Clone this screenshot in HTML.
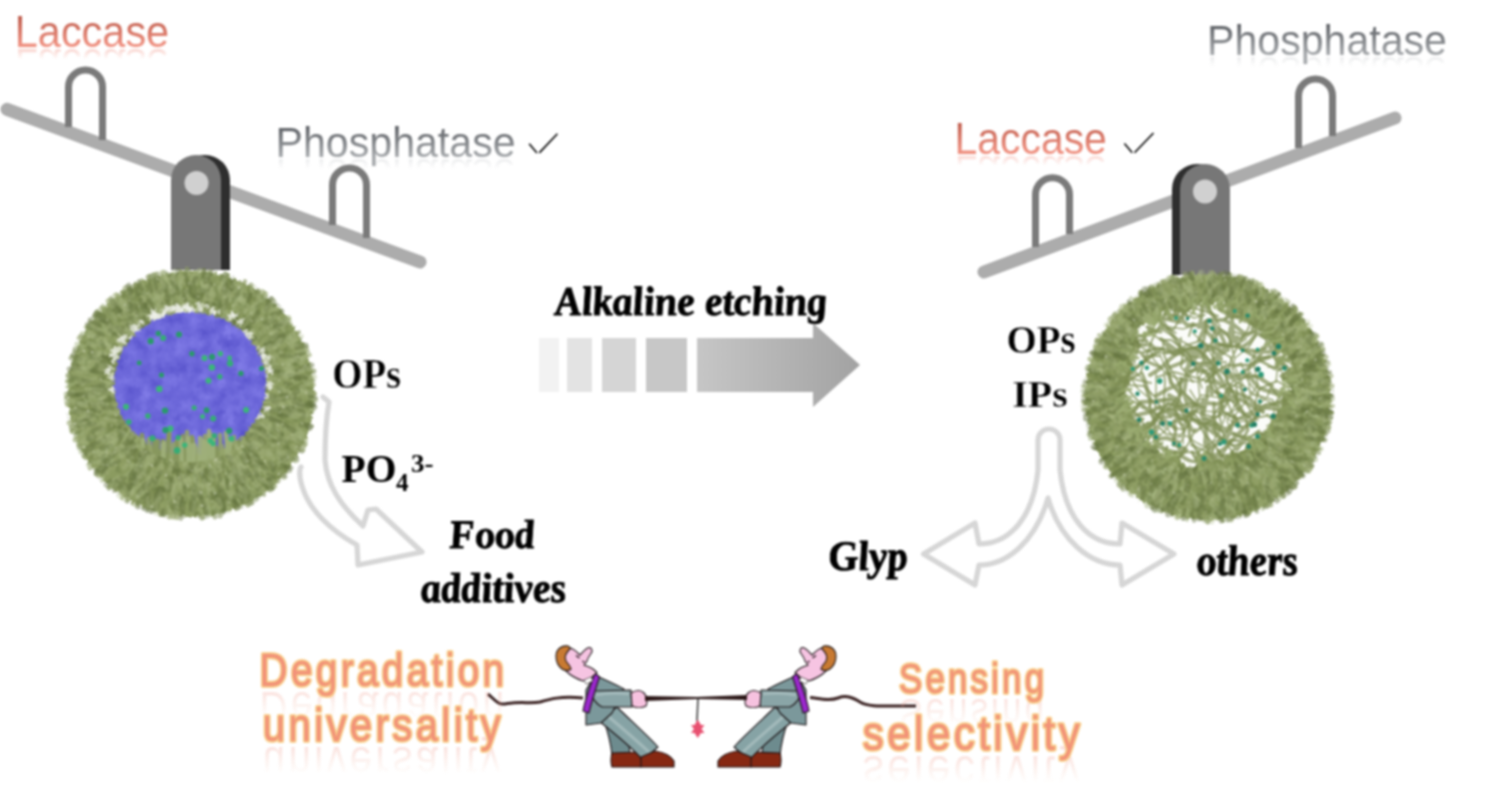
<!DOCTYPE html>
<html><head><meta charset="utf-8"><style>
html,body{margin:0;padding:0;background:#fff;width:1486px;height:807px;overflow:hidden}
svg{display:block;filter:blur(0.8px)}
.sans{font-family:"Liberation Sans",sans-serif}
.serif{font-family:"Liberation Serif",serif;font-weight:bold}
.bot{font-family:"Liberation Sans",sans-serif;font-weight:normal}
</style></head><body>
<svg width="1486" height="807" viewBox="0 0 1486 807">
<defs>
  <linearGradient id="gLac" x1="0" y1="0" x2="0" y2="1">
    <stop offset="0.1" stop-color="#b85444"/><stop offset="0.75" stop-color="#ee9080"/>
  </linearGradient>
  <linearGradient id="gPho" x1="0" y1="0" x2="0" y2="1">
    <stop offset="0.15" stop-color="#5a5d62"/><stop offset="0.8" stop-color="#a6a9ac"/>
  </linearGradient>
  <linearGradient id="gArrow" x1="0" y1="0" x2="1" y2="0">
    <stop offset="0" stop-color="#c6c6c6"/><stop offset="1" stop-color="#a2a2a2"/>
  </linearGradient>

  <filter color-interpolation-filters="sRGB" id="fuzzEdge" x="-15%" y="-15%" width="130%" height="130%">
    <feTurbulence type="fractalNoise" baseFrequency="0.35" numOctaves="2" seed="7"/>
    <feDisplacementMap in="SourceGraphic" scale="7" xChannelSelector="R" yChannelSelector="G"/><feGaussianBlur stdDeviation="0.6"/>
  </filter>
  <filter color-interpolation-filters="sRGB" id="texGreen" x="0" y="0" width="100%" height="100%">
    <feTurbulence type="fractalNoise" baseFrequency="0.09" numOctaves="3" seed="11" result="n"/>
    <feColorMatrix in="n" type="matrix" values="0.45 0 0 0 0.33  0.45 0 0 0 0.39  0.35 0 0 0 0.21  0 0 0 0 1"/>
  </filter>
  <filter color-interpolation-filters="sRGB" id="texBlue" x="0" y="0" width="100%" height="100%">
    <feTurbulence type="fractalNoise" baseFrequency="0.08" numOctaves="3" seed="4" result="n"/>
    <feColorMatrix in="n" type="matrix" values="0.22 0 0 0 0.32  0.22 0 0 0 0.30  0.15 0 0 0 0.78  0 0 0 0 1"/>
  </filter>
  <filter color-interpolation-filters="sRGB" id="texNet" x="0" y="0" width="100%" height="100%">
    <feTurbulence type="turbulence" baseFrequency="0.045" numOctaves="2" seed="9" result="n"/>
    <feComponentTransfer in="n" result="t">
      <feFuncA type="table" tableValues="1 0.6 0 0 0 0 0 0"/>
    </feComponentTransfer>
    <feColorMatrix in="t" type="matrix" values="0 0 0 0 0.50  0 0 0 0 0.57  0 0 0 0 0.33  0 0 0 1 0"/>
  </filter>
  <clipPath id="clipL"><circle cx="191" cy="394" r="126"/></clipPath>
  <clipPath id="clipLin"><ellipse cx="190" cy="384" rx="76" ry="72"/></clipPath>
  <clipPath id="clipR"><circle cx="1208" cy="397" r="126"/></clipPath>
  <clipPath id="clipRin"><ellipse cx="1206" cy="383" rx="85" ry="81"/></clipPath>

  <linearGradient id="gReflD" gradientUnits="userSpaceOnUse" x1="0" y1="690" x2="0" y2="660"><stop offset="0" stop-color="#e87890" stop-opacity="1"/><stop offset="1" stop-color="#e87890" stop-opacity="0"/></linearGradient>
  <linearGradient id="gReflU" gradientUnits="userSpaceOnUse" x1="0" y1="746" x2="0" y2="716"><stop offset="0" stop-color="#e87890" stop-opacity="1"/><stop offset="1" stop-color="#e87890" stop-opacity="0"/></linearGradient>
  <linearGradient id="gReflS" gradientUnits="userSpaceOnUse" x1="0" y1="698" x2="0" y2="668"><stop offset="0" stop-color="#e87890" stop-opacity="1"/><stop offset="1" stop-color="#e87890" stop-opacity="0"/></linearGradient>
  <linearGradient id="gReflSe" gradientUnits="userSpaceOnUse" x1="0" y1="755" x2="0" y2="725"><stop offset="0" stop-color="#e87890" stop-opacity="1"/><stop offset="1" stop-color="#e87890" stop-opacity="0"/></linearGradient>
  <filter id="soft" x="-5%" y="-5%" width="110%" height="110%"><feGaussianBlur stdDeviation="0.7"/></filter>
  <clipPath id="clipLrods"><ellipse cx="190" cy="386" rx="80" ry="76"/></clipPath>
  <filter id="clumps" color-interpolation-filters="sRGB" x="0" y="0" width="100%" height="100%">
    <feTurbulence type="fractalNoise" baseFrequency="0.13" numOctaves="2" seed="21"/>
    <feColorMatrix type="matrix" values="0 0 0 0 0.33  0 0 0 0 0.40  0 0 0 0 0.20  5 0 0 0 -2.7"/>
  </filter>
  <filter id="glints" color-interpolation-filters="sRGB" x="0" y="0" width="100%" height="100%">
    <feTurbulence type="fractalNoise" baseFrequency="0.22" numOctaves="2" seed="33"/>
    <feColorMatrix type="matrix" values="0 0 0 0 0.92  0 0 0 0 0.93  0 0 0 0 0.88  7 0 0 0 -4.9"/>
  </filter>
</defs>

<defs><linearGradient id="gLacR_lacL" gradientUnits="userSpaceOnUse" x1="0" y1="49.4" x2="0" y2="37.4"><stop offset="0" stop-color="#f08878" stop-opacity="1"/><stop offset="1" stop-color="#f08878" stop-opacity="0"/></linearGradient><linearGradient id="gLacR_lacR" gradientUnits="userSpaceOnUse" x1="0" y1="155.6" x2="0" y2="143.6"><stop offset="0" stop-color="#f08878" stop-opacity="1"/><stop offset="1" stop-color="#f08878" stop-opacity="0"/></linearGradient><linearGradient id="gPhoR_phoL" gradientUnits="userSpaceOnUse" x1="0" y1="159.1" x2="0" y2="147.1"><stop offset="0" stop-color="#9a9ea4" stop-opacity="1"/><stop offset="1" stop-color="#9a9ea4" stop-opacity="0"/></linearGradient><linearGradient id="gPhoR_phoR" gradientUnits="userSpaceOnUse" x1="0" y1="57.0" x2="0" y2="45.0"><stop offset="0" stop-color="#9a9ea4" stop-opacity="1"/><stop offset="1" stop-color="#9a9ea4" stop-opacity="0"/></linearGradient><linearGradient id="gRefl_deg" gradientUnits="userSpaceOnUse" x1="0" y1="688.5" x2="0" y2="658.5"><stop offset="0" stop-color="#f09a90" stop-opacity="1"/><stop offset="1" stop-color="#f0b090" stop-opacity="0"/></linearGradient><linearGradient id="gRefl_uni" gradientUnits="userSpaceOnUse" x1="0" y1="744.3" x2="0" y2="714.3"><stop offset="0" stop-color="#f09a90" stop-opacity="1"/><stop offset="1" stop-color="#f0b090" stop-opacity="0"/></linearGradient><linearGradient id="gRefl_sen" gradientUnits="userSpaceOnUse" x1="0" y1="696.4" x2="0" y2="666.4"><stop offset="0" stop-color="#f09a90" stop-opacity="1"/><stop offset="1" stop-color="#f0b090" stop-opacity="0"/></linearGradient><linearGradient id="gRefl_sel" gradientUnits="userSpaceOnUse" x1="0" y1="752.8" x2="0" y2="722.8"><stop offset="0" stop-color="#f09a90" stop-opacity="1"/><stop offset="1" stop-color="#f0b090" stop-opacity="0"/></linearGradient></defs>
<!-- ============ LEFT SEESAW ============ -->
<g id="seesawL">
  <line x1="7" y1="109.3" x2="420" y2="262" stroke="#acacac" stroke-width="13" stroke-linecap="round"/>
  <path d="M68.5 127 V87 a17 17 0 0 1 34 0 V140" fill="none" stroke="#7a7a7a" stroke-width="7"/>
  <path d="M332.5 225 V185 a17 17 0 0 1 34 0 V238" fill="none" stroke="#7a7a7a" stroke-width="7"/>
  <path d="M179 270 V180 a25 25 0 0 1 25 -25 h1 a25 25 0 0 1 25 25 V270 Z" fill="#2e2e2e"/>
  <path d="M171 270 V180 a25 25 0 0 1 25 -25 a25 25 0 0 1 25 25 V270 Z" fill="#777777"/>
  <circle cx="196.5" cy="183" r="12" fill="#d0d0d0"/>
</g>

<!-- ============ RIGHT SEESAW ============ -->
<g id="seesawR">
  <line x1="984" y1="272" x2="1395" y2="118" stroke="#acacac" stroke-width="13" stroke-linecap="round"/>
  <path d="M1035.5 247 V194.7 a17 17 0 0 1 34 0 V234" fill="none" stroke="#7a7a7a" stroke-width="7"/>
  <path d="M1298.5 148 V96 a17 17 0 0 1 34 0 V136" fill="none" stroke="#7a7a7a" stroke-width="7"/>
  <path d="M1172 275 V189 a25 25 0 0 1 25 -25 h1 a25 25 0 0 1 25 25 V275 Z" fill="#2e2e2e"/>
  <path d="M1180 275 V189 a25 25 0 0 1 25 -25 a25 25 0 0 1 25 25 V275 Z" fill="#777777"/>
  <circle cx="1205" cy="191.5" r="12" fill="#d0d0d0"/>
</g>

<g id="sphereL">
<circle cx="191" cy="394" r="123" fill="#8b9b60" filter="url(#fuzzEdge)"/>
<g filter="url(#soft)"><path d="M84 358L77 353M103 477L102 481M240 294L242 286M263 340L269 339M115 461L110 466M299 435L306 441M138 480L135 485M195 488L200 494M144 320L140 314M175 317L173 309M137 332L129 327M133 338L125 339M111 412L107 418M115 367L107 365M231 313L234 309M103 439L95 438M157 307L159 300M148 335L151 331M94 423L89 425M197 468L201 474M226 321L227 313M277 424L285 429M250 355L254 348M209 319L213 310M125 440L123 446M77 409L71 411M238 500L238 509M271 389L280 391M84 364L78 360M107 403L97 406M252 421L259 428M109 463L105 467M237 347L243 343M158 305L156 299M130 447L123 452M200 276L199 270M240 300L243 296M250 434L260 436M290 339L294 333M302 408L309 409M244 496L249 500M265 333L271 325M301 358L310 355M135 357L130 356M223 295L225 286M238 343L244 338M264 449L270 454M96 356L88 356M138 291L136 283M192 328L199 321M303 392L314 394M161 493L159 500M190 319L189 311M113 445L107 450M252 345L258 338M210 469L211 476M205 305L205 299M254 495L256 500M137 466L136 474M206 506L211 515M125 434L121 437M203 302L208 294M148 446L142 453M142 445L137 447M145 453L138 458M126 338L118 334M86 377L80 378M256 322L258 316M174 306L168 297M262 417L271 418M255 311L259 302M256 395L264 398M78 429L72 432M176 302L174 292M87 398L81 396M123 409L113 413M207 476L208 482M286 429L295 434M282 338L288 338M118 359L111 354M73 383L67 387M72 394L66 396M222 330L226 322M139 501L136 506M243 459L247 465M211 473L211 482M77 432L75 437M300 442L304 446M234 321L238 313M149 297L145 294M231 469L239 473M273 417L277 418M260 356L270 352M242 475L247 483M114 453L106 458M108 454L104 460M184 312L181 308M87 334L82 333M244 312L248 307M129 473L122 479M227 280L228 275M283 365L292 366M213 488L216 494M278 456L283 464M125 449L120 454M193 493L195 502M83 368L76 362M105 468L95 469M175 484L172 491M271 389L280 389M250 429L255 430M91 383L85 384M303 351L308 351M112 434L106 436M218 461L226 465M109 409L103 409M241 466L242 472M278 388L284 389M159 490L156 500M261 427L269 432M184 313L184 308M180 286L179 275M267 397L274 401M110 345L103 339M292 435L296 432M194 470L195 481M220 320L220 314M228 324L234 317M295 438L303 437M266 378L276 377M252 462L258 467M272 481L275 487M165 299L165 293M269 364L274 363M181 311L180 305M240 435L248 441M192 464L192 470M83 364L73 362M268 434L274 438M129 294L130 287M180 288L182 281M273 409L281 411M102 331L95 330M270 440L272 447M186 313L179 306M156 281L155 274M267 383L276 378M255 452L258 459M148 448L145 457M119 386L114 385M271 463L281 464M159 480L153 487M234 305L238 296M237 299L239 289M94 337L89 334M235 291L234 285M139 464L133 472M178 494L177 500M173 494L169 501M202 470L205 480M145 289L140 282M237 473L242 481M84 437L78 434M227 486L228 496M264 348L269 344M137 326L129 322M80 377L74 377M250 493L251 500M99 387L90 388M298 391L304 388M73 382L67 382M291 456L296 458M128 296L125 290M115 435L106 438M123 409L114 406" stroke="#a2b27e" stroke-opacity="0.45" stroke-width="4" stroke-linecap="round" fill="none"/>
<path d="M254 484L258 491M225 481L228 487M242 308L246 303M83 444L79 448M223 279L226 274M254 479L263 484M213 503L218 511M197 305L199 296M106 459L102 463M120 311L117 307M270 407L278 411M258 355L264 349M110 444L105 452M97 363L92 364M132 488L131 494M251 471L255 478M294 380L300 376M76 425L71 428M86 443L79 445M106 343L102 337M95 346L89 343M150 479L149 485M114 482L109 487M274 355L279 351M190 306L190 301M173 458L169 463M173 513L171 517M93 450L84 456M104 345L98 342M250 446L256 452M275 418L277 423M118 412L112 411M158 495L151 503M288 374L294 373M262 362L273 360M265 366L275 368M117 358L112 351M273 368L278 366M104 356L97 353M245 453L247 462M111 459L101 460M260 490L264 492M293 436L299 439M91 333L86 327M226 472L234 479M102 398L94 397M215 297L218 288M75 392L66 394M145 492L137 496M98 360L89 364M135 315L126 310M98 356L92 353M258 319L269 317M208 508L209 515M207 457L209 465M156 297L153 291M296 360L301 359M133 466L131 475M106 366L103 357M77 432L72 431M146 313L138 306M168 509L164 515M270 463L275 470M279 328L284 320M290 415L298 417M185 485L185 490M282 371L289 369M106 457L101 460M129 406L119 404M216 454L219 458M259 426L266 428M262 361L270 360M228 320L229 315M195 476L197 484M105 310L103 306M230 299L240 298M236 457L238 463M111 331L104 326M248 318L252 313M132 337L128 330M124 312L122 306M82 420L74 427M231 469L237 478M246 356L252 351M133 349L129 345M290 395L301 393M108 446L103 452M103 318L98 311M134 303L128 300M227 453L234 460M83 346L77 344M241 454L249 459M196 498L198 502M82 438L77 439M202 331L205 324M111 435L101 436M140 457L136 467M287 375L293 373M112 448L108 453M214 460L221 468M226 476L231 483M252 451L260 458M104 346L94 343M264 471L271 477M260 413L270 414M250 478L255 478M254 375L261 373M131 313L128 303M150 341L144 334M253 443L260 444M280 342L289 337M255 402L264 402M131 350L123 342M262 419L268 418M184 500L178 505M203 290L203 279M207 459L210 468M241 342L247 337M223 287L224 277M245 451L252 456M282 325L289 318M292 435L301 434M159 306L159 301M215 504L215 512M154 329L146 323M126 337L126 332M270 368L276 365M311 399L316 400M287 436L295 439M202 495L200 503M108 468L102 476M246 360L251 352M84 445L81 452M265 482L268 488M76 375L68 377M113 463L104 463M127 435L121 435M223 460L225 469M128 418L123 425M157 308L153 300M260 376L268 371M115 384L106 384M288 356L296 357M90 425L83 433M263 299L266 294M241 461L248 467M264 431L269 436M145 342L143 336M207 484L209 490M236 461L244 465M140 461L136 470M175 303L172 294M275 347L282 341M115 347L107 344M121 418L117 423M243 431L252 434M151 322L144 315M130 458L127 464M296 413L306 416M110 358L101 357M271 335L275 329M166 278L163 272M284 323L288 319M211 333L212 328M256 468L261 473M134 469L135 479M192 466L194 470M262 300L266 294M302 348L306 346M269 367L271 362M161 300L161 294M212 468L216 475M107 448L102 450M120 376L110 377M174 295L171 285M306 414L313 410M180 298L179 288M183 322L186 315M89 400L81 403M217 308L218 301M186 462L185 469M211 304L212 295M79 377L69 377M248 487L254 488M242 341L247 336M229 496L232 502M109 327L104 322M154 283L154 275M124 394L119 399" stroke="#a2b27e" stroke-opacity="0.45" stroke-width="5" stroke-linecap="round" fill="none"/>
<path d="M136 359L133 354M133 301L124 294M101 431L98 435M120 444L112 450M190 326L185 320M179 504L176 509M229 308L229 302M126 305L121 297M156 490L154 498M201 499L202 506M132 339L123 333M206 470L207 477M96 342L91 340M137 306L138 297M294 440L298 445M283 464L289 468M93 328L87 327M225 466L231 474M131 296L125 290M104 317L99 314M280 469L284 476M118 390L112 388M266 316L269 312M275 463L276 469M178 331L176 325M281 448L285 452M176 305L175 295M146 307L142 300M102 316L96 314M283 435L291 436M161 308L160 302M232 336L239 330M301 348L307 348M199 303L199 293M265 443L272 448M240 433L246 436M126 430L120 433M296 335L299 332M262 447L268 449M94 423L87 425M136 454L135 460M93 417L85 415M280 439L286 443M114 418L103 416M132 444L127 449M201 276L204 270M208 493L210 499M247 500L251 503M149 347L146 341M191 318L191 308M157 309L152 304M211 283L210 272M133 320L127 312M215 299L216 293M275 368L284 367M253 369L262 366M136 321L131 318M205 302L205 297M280 409L289 413M168 500L171 509M178 500L177 510M169 332L171 327M133 330L129 326M123 384L115 378M269 446L274 449M193 294L190 289M121 417L115 423M267 369L276 367M264 440L270 446M140 342L136 338M228 279L228 275M234 503L240 507M243 288L245 281M126 370L119 371M225 477L228 487M247 456L253 464M177 505L178 511M132 345L128 338M94 450L86 455M135 450L134 458M121 396L112 398M223 464L222 473M92 457L89 464M125 299L118 295M91 386L82 388M89 452L84 451M86 375L77 368M112 366L103 361M107 459L99 466M260 460L264 465M262 444L269 446M182 477L182 483M136 292L135 285M228 292L229 281M286 454L291 458M128 413L124 416M256 300L261 297M269 404L276 402M254 433L258 437M236 452L243 458M254 451L259 456M174 469L168 477M206 321L211 314M274 372L283 367M231 499L234 507M94 397L89 396M254 445L258 450M89 406L83 405M122 431L116 430M74 397L66 398M242 327L243 321M92 410L83 411M192 310L190 302M161 452L155 459M79 385L73 388M139 481L138 490M97 332L89 325M170 491L171 499M269 314L273 311M183 310L180 305M258 310L259 303M214 325L215 319M151 297L150 292M138 288L135 284M122 349L114 345M248 499L250 504M114 428L107 431M225 495L229 504M292 389L300 386M307 424L312 426M108 360L101 355M243 438L251 442M151 489L150 499M170 326L168 319M247 483L252 486M262 442L265 452M300 379L307 382M294 437L302 442M292 363L298 361M127 347L121 345M83 378L77 376M127 323L118 318M298 411L308 408M214 483L219 492M97 372L87 370M170 309L165 300M197 309L199 302M260 486L264 495M241 310L246 307M117 317L111 308M203 498L205 506M134 483L129 492M87 389L80 390M158 487L155 492M268 311L270 307M186 302L188 293M171 481L166 489M114 402L106 400M252 297L259 292M201 296L199 287M272 350L277 350M76 421L71 426M245 490L245 501M255 410L265 409M271 450L281 456M285 447L290 450M190 483L190 490M131 489L126 496" stroke="#76864c" stroke-opacity="0.5" stroke-width="4" stroke-linecap="round" fill="none"/>
<path d="M132 346L127 338M306 371L314 371M262 429L265 435M298 376L309 375M80 380L71 380M97 457L92 462M141 465L138 473M261 329L263 325M302 386L310 390M249 293L251 285M123 408L113 409M268 363L274 356M213 325L218 316M97 440L92 445M241 322L247 317M213 512L215 517M179 328L177 321M250 459L251 466M279 355L288 348M149 280L148 277M166 299L164 292M166 465L167 476M193 316L193 308M262 339L269 338M120 437L116 444M247 438L249 443M275 377L284 376M279 446L287 451M146 474L142 480M221 301L219 294M233 296L235 289M254 451L259 455M240 480L245 489M76 359L71 358M84 342L81 336M282 446L287 453M281 435L287 442M136 468L130 476M95 383L86 383M224 509L220 516M164 309L162 299M234 457L240 461M161 471L158 476M251 360L262 358M240 350L248 346M216 290L215 284M258 412L266 417M127 351L117 348M243 479L245 490M255 300L258 291M251 436L255 441M262 484L264 489M278 375L283 372M281 455L285 460M305 403L313 403M102 444L97 451M222 492L226 497M265 406L274 405M272 401L281 403M194 296L189 289M272 415L278 416M250 497L252 503M218 299L222 291M118 419L109 424M233 323L236 316M255 466L261 475M99 336L91 332M99 316L97 312M150 282L150 276M285 436L295 440M104 407L94 409M101 393L93 396M296 378L304 377M84 355L78 357M126 299L123 292M225 330L234 326M99 403L92 404M227 492L229 500M197 280L201 276M152 493L151 501M83 428L79 430M257 387L264 387M124 447L123 453M185 494L185 502M170 314L171 308M206 290L208 284M143 455L143 464M143 319L140 314M80 396L73 397M275 353L282 350M211 316L211 309M166 510L161 514M137 451L135 460M124 418L120 421M113 357L108 358M79 396L70 396M142 325L134 320M94 455L84 456M248 306L251 296M268 355L276 353M214 311L212 304M99 384L93 384M168 483L167 494M285 451L291 453M170 333L170 326M267 439L277 441M265 437L275 442M275 414L284 417M277 475L278 481M297 380L303 378M268 382L275 381M238 328L242 324M263 487L270 490M265 337L267 331M247 434L252 437M96 411L88 416M157 334L157 325M140 432L136 436M295 404L299 405M210 496L212 503M190 465L192 472M196 492L198 502M158 488L151 497M101 441L94 443M158 279L157 274M205 304L205 296M84 428L78 429M99 325L93 323M109 379L100 378M127 347L122 342M258 482L257 489M220 302L217 296M169 463L167 469M147 451L141 455M295 387L302 385M191 504L194 514M114 483L109 488M136 458L130 460M74 376L68 375M286 422L295 427M84 391L77 391M283 447L292 448M223 464L222 474M251 361L258 361M211 471L209 481M228 297L225 287M199 515L202 518M129 386L121 386M130 496L127 501M244 296L252 295M145 329L140 326M281 469L286 472M185 471L183 476M154 464L147 471M154 283L153 275M123 315L119 307M254 363L259 358M173 508L174 517M304 379L313 380M294 363L298 360M234 476L238 485M254 433L262 440M185 289L186 280M267 482L272 489M114 426L108 429M220 306L226 299M250 367L260 369M146 295L147 287M255 390L264 390M219 455L223 461M83 397L76 398M274 361L279 354M139 312L136 306M206 304L206 296M216 311L215 305M148 311L145 305M264 333L269 330M244 500L248 505M88 397L81 394M124 335L124 326M154 484L148 489M275 378L284 378" stroke="#76864c" stroke-opacity="0.5" stroke-width="5" stroke-linecap="round" fill="none"/>
<path d="M92 354L82 353M195 319L197 311M123 458L115 463M150 305L150 298M119 399L113 403M171 484L171 493M142 308L143 297M274 325L280 323M116 310L114 305M258 367L269 367M86 389L80 391M89 384L82 382M278 329L282 322M288 406L299 405M81 419L73 415M163 469L163 479M303 380L309 383M157 495L154 500M164 305L161 296M126 423L117 424M112 414L106 411M126 454L121 458M231 322L229 312M115 421L108 422M169 304L167 294M150 454L148 462M276 405L285 402M115 379L106 376M143 289L142 280M103 429L95 432M150 450L143 454M238 346L245 341M205 479L204 484M88 361L81 357M107 339L101 339M90 424L85 428M192 509L194 514M128 404L121 403M220 488L225 497M127 305L126 299M159 479L155 486M226 292L233 286M175 510L177 518M110 466L103 473M153 468L153 478M106 424L99 430M283 389L292 395M210 290L217 282M308 384L314 385M228 458L232 466M151 476L150 485M145 481L142 485M295 395L305 394M261 382L270 381M198 479L199 489M285 406L292 403M260 478L265 481M272 404L277 407M211 456L210 462M120 406L113 414M112 435L106 438M302 441L306 444M191 318L191 312M186 295L187 289M271 354L276 345M170 328L172 318M235 460L239 469M157 504L160 515M154 496L151 506M103 448L95 451M176 461L176 467M272 396L279 397M206 300L206 294M149 332L147 325M110 336L107 332M91 429L85 431M222 493L229 501M116 440L110 445M184 314L189 309M116 352L108 348M96 424L87 430M83 366L75 366M87 412L80 413M145 346L136 340M279 406L289 405M179 279L181 271M213 329L218 323M229 461L236 465M103 448L96 455M251 378L256 377M71 381L67 381M82 437L78 442M311 391L315 394M80 352L74 352M267 479L271 485M126 456L118 460M89 381L81 379M133 494L130 499M77 358L72 356M87 381L76 382M264 429L271 430M207 326L210 316M236 482L239 487M95 412L85 411M95 420L85 418M259 485L265 490M113 304L110 300M103 384L95 385M261 382L266 378M96 382L89 383M212 318L212 309M83 429L75 430M107 310L101 308M102 354L94 353M71 405L67 405M111 366L100 369M238 483L241 489M269 477L276 482M147 298L140 295M158 500L152 508M169 299L163 295M221 334L221 329M154 285L149 276M263 388L268 386M290 425L295 428M295 425L301 430M258 423L264 423M105 338L99 334M270 426L275 432M242 462L247 467M249 466L254 473M269 361L276 361M182 458L180 466M147 448L145 458M219 475L220 482M175 302L178 292M268 407L279 407M97 322L90 322M274 358L280 355M202 495L200 506M183 285L185 277M116 445L110 450M184 487L188 496M242 338L246 332M106 409L100 413M269 357L275 353M283 452L292 457M282 431L289 438M84 397L77 398M254 347L263 342M290 408L298 410M97 345L89 345M253 472L255 478M145 341L142 335M259 461L262 466M104 410L97 409M190 331L189 321M248 430L255 433M259 344L267 337M220 328L224 321M159 309L158 299M82 375L73 373M155 335L150 326M106 394L98 394M137 502L133 504M88 391L78 391M82 440L78 445M260 297L265 293M228 462L232 472M296 348L302 345M252 346L255 342M184 323L182 316M231 444L237 449M117 321L114 314M102 324L95 316M302 410L309 412M122 431L112 434M234 441L233 451M290 434L297 436M190 322L190 315M174 323L170 314M238 317L243 309M238 465L241 470M225 312L226 304M102 475L98 476M257 429L265 435M247 477L256 482M126 494L122 498M286 364L291 361" stroke="#93a369" stroke-opacity="0.55" stroke-width="4" stroke-linecap="round" fill="none"/>
<path d="M215 501L217 506M183 475L179 482M256 462L261 469M263 363L272 359M268 406L273 410M263 452L263 461M276 422L281 425M261 378L265 375M186 275L187 269M205 306L207 296M241 470L247 477M98 433L87 435M196 316L199 308M289 360L295 360M104 472L96 474M265 401L275 404M127 331L123 327M298 426L304 426M297 447L303 450M200 491L199 499M128 477L119 482M110 328L105 321M294 444L296 449M256 423L265 422M135 321L134 314M118 454L109 454M122 480L116 489M161 457L160 466M118 339L110 334M258 409L268 410M117 461L113 468M303 392L314 393M150 493L145 501M251 459L258 464M256 413L264 412M240 445L238 452M143 484L138 487M90 364L84 356M220 470L222 478M161 491L160 501M186 474L183 483M282 431L290 433M85 375L79 373M127 443L121 447M128 460L122 466M166 294L163 285M228 458L231 464M128 350L120 343M114 308L109 305M272 312L274 307M270 401L280 405M257 374L265 373M162 504L164 514M279 376L284 374M295 413L301 415M162 294L155 288M113 304L108 301M270 400L278 396M249 345L254 346M253 480L253 486M279 349L284 346M166 331L161 325M271 484L272 488M143 339L141 334M279 339L287 337M135 305L126 302M132 483L129 492M146 328L140 326M260 453L265 453M196 314L193 308M206 293L210 283M109 469L107 474M111 406L102 408M97 362L91 362M195 456L194 462M71 401L67 403M231 338L235 333M120 339L114 330M122 420L115 422M253 323L260 316M89 379L82 379M303 394L313 396M166 494L161 501M247 472L252 476M182 483L178 491M92 373L83 367M269 405L277 407M287 382L296 382M104 444L97 444M299 441L304 446M84 437L81 446M297 371L304 374M94 352L89 346M259 424L268 429M112 313L104 309M116 354L106 350M158 295L151 288M123 399L118 403M267 460L271 466M226 493L232 497M79 427L72 431M244 486L246 495M175 462L171 469M183 491L183 499M280 369L290 366M204 289L206 280M170 294L170 289M238 488L243 489M207 280L206 273M259 451L266 456M260 325L268 323M220 474L217 482M248 468L254 475M269 313L277 309M258 297L263 292M80 438L75 440M195 283L190 274M200 311L199 306M228 301L230 291M180 500L178 508M104 382L98 379M229 447L237 453M112 376L109 370M237 450L238 456M179 497L175 506M280 361L280 354M90 450L86 458M267 332L273 330M169 299L167 294M109 343L103 338M210 304L213 294M106 404L99 403M100 318L95 315M76 421L69 423M96 332L90 324M134 482L126 486M106 419L101 420M120 301L116 295M141 327L136 324M119 369L112 372M245 362L255 362M128 385L120 388M279 403L284 403M261 443L269 450M211 281L206 274M261 437L268 443M286 436L292 439M96 335L91 333M252 347L255 343M172 494L172 501M276 325L282 317M270 389L275 387M226 457L231 460M274 328L280 322M273 418L282 424M174 481L172 486M101 429L92 429M136 319L135 311M294 353L300 348M128 292L125 288M218 467L219 473M115 396L109 395M242 486L246 490M243 490L245 495M149 324L145 317M106 432L97 439M97 463L90 468M251 465L252 472M108 407L99 404M171 512L169 517M87 340L79 338M163 310L157 300M150 483L145 486M298 415L307 422M228 300L229 291M301 393L308 393M119 304L117 299M259 443L262 448M167 487L164 497M253 374L259 371M123 444L118 450M113 383L105 382M155 447L150 451M185 465L189 474M152 303L149 296M276 397L282 397M149 488L147 492M233 323L238 319M266 394L275 391M267 473L272 475M209 494L210 504" stroke="#93a369" stroke-opacity="0.55" stroke-width="5" stroke-linecap="round" fill="none"/>
<path d="M229 293L233 286M276 342L284 338M239 336L243 332M147 494L143 498M298 411L304 413M115 334L109 331M217 324L216 319M80 426L72 429M235 324L238 315M279 397L287 393M108 400L101 404M275 338L284 336M285 467L290 471M142 476L136 480M100 412L95 408M250 474L253 480M260 437L264 441M273 306L274 301M276 335L279 329M129 440L124 444M273 402L278 404M131 474L130 480M145 456L142 461M125 422L120 427M265 351L271 345M107 324L100 318M168 300L167 294M278 421L287 426M285 383L291 384M143 328L139 324M173 295L170 290M306 425L310 429M115 304L111 298M90 416L84 420M156 340L155 332M298 405L306 405M240 497L242 502M227 480L228 488M278 408L283 408M122 361L117 356M276 430L282 434M115 485L114 491M96 354L89 348M117 399L111 396M237 475L241 484M191 501L191 511M118 355L110 356M121 314L115 306M308 406L314 406M131 306L129 301M144 458L136 462M157 292L155 282M135 444L126 449M217 328L221 319M76 395L68 393M175 276L178 270M119 358L112 359M182 498L178 505M190 288L189 282M211 310L212 304M197 457L196 463M244 323L250 317M86 381L78 385M97 428L93 432M171 330L171 324M189 472L186 477M208 320L207 312M287 409L296 406M231 326L236 318M110 359L104 356M141 321L137 313M212 493L216 500M167 296L167 285M127 486L121 489M227 456L231 459M106 401L98 403M162 456L156 465M261 431L267 436M188 284L186 276M251 426L260 427M184 484L185 492M130 294L128 287M193 491L193 498M160 488L155 496M270 346L275 344M299 376L306 378M200 473L207 481M119 461L111 465M248 301L251 294M270 371L278 371M149 323L143 316M310 396L316 398M145 333L141 329M131 330L128 325M269 303L272 299M259 359L267 353M207 309L207 304M177 465L174 472M242 334L247 327M235 501L238 505M163 510L162 515M224 291L226 281M254 470L258 476M182 513L181 519M105 438L98 442M274 441L281 441M279 326L287 319M140 453L140 459M132 291L127 286M117 398L108 398M175 459L178 470M281 356L290 356M208 278L212 271M265 345L274 342M125 478L120 484M259 439L264 443M121 333L117 327M217 494L223 501M279 415L287 416M177 288L171 281M241 467L245 476M112 303L111 299M133 439L130 443M142 289L140 285M219 475L221 480M207 293L210 284M123 333L118 329M82 407L73 412M134 333L128 331M275 399L285 400M98 470L96 474M245 451L248 458M265 397L271 398M293 411L302 410M146 312L145 304M204 277L204 270M240 492L247 498M135 430L129 438M201 489L201 498M268 474L274 478M90 381L84 381M147 506L144 509M108 368L102 361M139 286L139 281M91 328L87 324M270 411L278 410M154 507L151 512M100 321L97 316M101 362L92 356M95 406L85 403M167 486L163 491M158 281L155 277M263 367L269 363M254 423L257 429M179 321L179 311M261 478L267 487M257 403L264 408M271 395L277 397M234 482L238 489M224 503L225 510M81 422L76 428M252 427L260 431M251 443L254 448M216 499L220 504M243 458L245 464M131 485L129 491M131 312L127 305M208 297L205 292M125 484L119 487M150 503L147 511M281 460L288 460M95 444L88 451M133 437L126 444M270 418L276 420M262 350L271 345M177 312L175 303M257 406L262 408M122 478L117 481M97 352L89 353M259 464L266 469M107 467L102 473M80 423L75 424M281 342L284 336M264 409L269 409M296 379L305 377M96 443L87 448M262 464L267 469M104 429L93 430M238 493L242 498M120 342L118 337M111 388L104 391M133 471L134 482M117 313L112 304M268 479L273 488M194 494L193 505M144 341L139 335M110 439L104 442M194 297L188 291M289 375L296 376M95 424L90 425M297 371L304 367M127 393L121 395M268 305L271 298M158 477L156 483M103 335L95 329M94 446L86 454M237 296L239 289M134 445L130 450M183 513L180 518M149 485L144 489" stroke="#5f6f3c" stroke-opacity="0.4" stroke-width="4" stroke-linecap="round" fill="none"/>
<path d="M306 368L312 365M253 350L258 349M243 455L249 462M103 370L97 369M274 337L283 335M138 469L136 476M114 386L108 388M95 410L87 412M137 312L134 305M174 282L170 275M135 476L135 484M152 480L144 486M260 354L264 351M256 474L259 478M247 344L255 338M294 357L303 353M111 481L106 485M225 332L232 324M245 458L252 465M254 456L261 463M199 294L194 288M137 349L135 342M205 282L208 278M138 328L132 325M192 465L190 471M199 299L203 291M271 419L279 422M80 368L74 363M79 349L75 350M161 292L166 286M290 397L298 391M175 505L175 512M112 328L109 321M225 307L227 299M280 412L290 414M128 371L121 371M87 394L78 395M161 489L157 496M159 490L162 499M156 328L153 322M299 448L302 451M150 452L141 456M105 460L101 469M270 463L274 470M111 446L102 448M301 425L308 425M240 481L246 489M166 310L168 302M138 502L138 507M146 323L146 317M135 324L131 318M290 376L298 377M234 474L239 481M178 293L173 290M257 408L264 410M82 401L77 404M106 392L103 388M94 437L89 438M80 359L73 355M222 323L226 317M225 294L229 289M103 320L95 315M309 403L315 407M222 279L225 274M147 445L144 451M154 316L148 311M144 310L141 300M104 385L94 388M243 486L249 494M205 505L207 514M135 450L128 456M114 370L106 369M217 497L220 504M234 501L237 508M120 401L112 397M118 363L110 358M142 488L139 493M297 403L302 405M289 428L294 431M175 285L171 276M233 467L241 474M230 457L233 467M199 494L202 501M229 326L236 319M108 461L103 470M90 423L80 421M256 424L264 431M245 334L249 326M294 402L300 401M124 329L117 328M193 322L192 316M157 497L157 507M138 294L137 289M275 329L276 323M75 368L69 369M178 471L180 480M104 347L101 342M154 328L148 323M193 285L196 278M281 475L285 477M172 479L169 490M219 315L221 305M151 291L150 286M246 434L251 435M101 390L93 391M248 444L251 452M266 324L273 320M99 326L90 320M111 407L104 408M266 310L270 300M225 495L228 500M204 471L204 482M265 399L271 398M287 397L294 397M269 480L272 484M283 411L292 408M146 449L141 454M179 495L177 499M185 300L185 291M149 493L146 502M155 500L157 508M221 489L224 499M248 456L256 461M221 313L224 308M208 322L213 316M244 360L246 353M85 411L76 412M103 470L96 471M223 498L223 507M102 373L92 370M147 332L144 327M142 354L139 350M279 324L286 324M237 491L243 496M91 416L85 420M233 289L232 282M106 321L102 317M253 322L258 312M132 328L128 325M96 323L94 317M237 473L245 479M119 311L116 304M100 372L96 367M135 311L130 305M125 430L119 439M130 484L128 494M151 312L146 306M104 316L96 313M231 473L234 478M297 348L306 345M131 292L129 285M224 292L226 285M117 378L112 378M141 341L135 336M268 302L272 299M293 459L297 460M200 300L196 296M118 450L110 457M206 470L213 476M242 327L245 322M246 470L249 475M105 370L97 365M179 471L179 477M231 462L236 470M164 452L159 456M153 310L149 301M111 364L102 365M182 499L183 509M167 329L166 321M95 393L89 393M181 499L182 509M131 358L125 357M303 425L311 427M282 465L291 468M251 362L258 362M196 504L193 510M258 392L267 389M273 315L282 311M150 313L144 305M118 365L108 362M108 361L103 356M164 284L158 278" stroke="#5f6f3c" stroke-opacity="0.4" stroke-width="5" stroke-linecap="round" fill="none"/>
<path d="M149 344L146 339M171 467L170 472M119 391L112 395M251 421L257 425M232 287L235 283M238 464L248 468M259 377L265 375M155 322L153 317M294 447L303 450M173 316L171 309M254 295L260 290M251 312L252 307M141 459L140 465M185 464L189 468M252 291L254 286M289 365L297 358M300 371L307 370M209 317L212 308M95 336L90 332M188 299L187 290M258 295L262 291M143 469L140 477M99 402L92 403M123 446L118 451M95 417L85 416M192 486L195 493M174 291L174 281M291 447L296 450M208 299L210 292M231 491L238 495M207 331L206 323M154 315L149 306M199 321L203 314M251 454L256 460M277 437L286 439M223 303L225 297M123 347L117 340M196 283L197 273M95 378L88 381M280 390L290 392M200 509L204 518M179 498L177 507M169 469L166 475M224 318L225 311M99 394L89 394M168 481L167 486M220 313L224 307M231 475L234 481M203 291L202 283M273 399L281 399M289 348L297 345M116 349L107 344M105 397L99 399M111 436L103 441M200 329L201 319M95 396L89 396M125 362L118 357M224 325L231 317M122 307L118 301M278 327L284 326M221 453L220 458M217 456L220 463M248 443L255 447M198 280L201 270M289 437L295 440M102 455L102 464M164 286L160 280M115 320L111 313M168 502L169 510M87 406L79 403M85 423L75 423M204 302L207 293M289 343L298 338M245 312L248 306M285 397L292 405M127 315L123 306M98 361L94 357M280 323L287 318M97 415L90 419M132 297L125 290M117 438L113 442M238 304L243 300M278 452L288 455M188 457L184 465M91 412L86 413M103 459L99 464M144 301L144 292M208 492L209 498M210 312L211 303M140 470L138 476M289 375L298 374M149 478L146 488M207 277L209 271M188 478L182 485M180 287L182 277M246 336L254 333M122 317L118 315M87 402L82 406M114 434L109 440M200 318L203 312M204 480L203 487M272 446L278 445M281 452L285 459M280 442L286 443M124 432L116 430M281 327L289 322M171 465L170 474M157 298L157 292M175 511L173 517M148 498L148 507M230 301L229 292M167 279L163 273M117 332L110 325M278 430L280 435M232 482L230 487M278 446L282 453M298 352L306 350M250 364L254 360M132 491L128 499M154 457L153 462M172 293L170 282M196 315L199 308M192 486L192 493M291 334L297 338M173 334L168 328M160 498L154 506M90 368L81 368M275 424L282 425M140 327L135 318M251 439L255 444M104 354L96 354M131 464L124 468M107 453L100 456M300 414L307 415M219 336L222 325M121 449L112 454M151 464L141 466M191 282L194 274M142 490L137 498M127 308L121 299M283 373L293 371M144 453L142 463M194 506L193 513M76 429L71 428M142 462L136 470M259 451L262 457M123 367L116 362M285 368L294 370M275 444L281 447M139 442L130 448M113 307L109 303M310 379L314 376M104 354L96 352M87 382L82 382M100 460L95 462M162 314L156 309M175 285L174 275M107 436L101 438M280 405L290 407M220 462L220 470M305 382L313 382M286 322L289 317M280 451L290 452M142 448L141 453M212 320L213 312M247 434L256 437M134 334L126 330M195 502L192 513M98 319L92 319M295 339L302 336M298 430L304 434M236 443L240 453M197 477L197 485M173 290L171 279M195 492L197 498M263 384L270 384M285 377L292 375M235 305L241 297M127 317L123 313M265 369L269 365M204 291L208 285M156 505L156 514M110 383L104 382M110 334L105 330M269 349L276 348M206 318L208 312M270 333L276 330M303 369L312 370M269 366L273 361M190 481L188 488M228 335L233 330M260 425L270 424M259 478L265 482M106 354L99 353M244 340L247 334M197 463L197 474M98 451L89 454M253 460L259 466M163 296L161 289M181 475L181 484M145 472L148 480M227 451L231 460M104 423L96 425M154 330L148 327M239 466L241 474M152 300L149 292M116 420L105 418M204 323L205 312M276 438L284 443M207 483L209 490M109 370L100 369M158 454L153 460M118 351L109 348M202 307L204 300M134 446L125 449M112 387L106 387M230 459L236 463" stroke="#aebd8c" stroke-opacity="0.3" stroke-width="4" stroke-linecap="round" fill="none"/>
<path d="M174 488L174 496M290 345L295 341M124 332L117 327M211 473L211 478M134 324L123 322M228 492L231 498M214 295L212 288M254 464L259 470M301 358L309 355M92 437L82 442M225 333L230 324M166 481L167 488M234 467L241 473M104 429L98 433M94 344L88 343M270 310L277 309M257 466L259 477M90 423L82 426M243 288L245 283M99 338L89 336M170 512L173 517M254 372L263 368M267 427L276 428M231 474L234 482M289 363L295 358M117 299L115 295M175 454L173 461M285 378L290 372M225 292L224 286M118 478L111 484M185 476L187 483M283 363L289 362M221 336L220 330M127 305L121 300M120 395L113 397M95 390L87 389M276 404L282 404M82 350L75 348M92 423L84 424M75 428L72 425M141 322L137 318M107 392L97 392M246 491L245 497M174 333L170 326M283 322L290 321M257 440L262 443M107 365L101 365M233 441L237 447M244 300L245 293M270 305L274 301M218 499L221 507M252 431L261 434M176 478L174 485M265 400L270 399M289 459L296 461M301 387L308 384M246 500L247 505M165 306L160 298M230 454L233 459M241 466L246 472M88 416L79 419M255 483L263 490M242 453L246 460M168 330L167 319M252 380L260 375M182 321L177 316M121 446L116 450M164 288L166 280M124 488L119 496M148 339L143 332M273 339L277 332M291 337L296 334M239 353L245 345M222 286L224 280M234 441L240 447M263 451L270 456M172 278L174 271M89 361L80 359M152 455L148 462M242 322L249 319M217 322L224 318M188 312L185 305M274 383L280 379M116 303L110 299M269 483L275 486M221 298L223 288M204 463L201 471M121 346L118 338M142 475L135 482M100 342L96 339M296 406L303 404M261 334L266 326M86 405L75 403M221 295L220 287M281 472L283 478M240 487L242 496M141 315L135 313M264 382L270 383M171 325L168 317M84 413L74 410M128 452L121 456M145 467L142 476M105 442L99 440M215 454L216 464M117 440L111 446M255 471L258 476M82 384L77 381M106 405L99 404M201 485L201 493M104 353L99 353M120 396L112 395M87 372L82 369M103 391L95 391M244 475L247 485M112 439L107 442M244 343L250 339M266 357L276 357M134 334L127 328M275 346L280 340M127 492L123 499M248 445L255 449M254 306L259 299M146 461L142 465M302 390L310 393M119 303L113 297M298 438L306 439M121 303L117 295M73 400L66 400M98 329L92 326M270 321L275 316M243 326L248 317M294 436L297 441M235 472L241 481M158 278L155 275M206 500L207 507M310 377L315 377M269 384L274 379M269 454L273 458M170 331L171 320M98 452L95 457M237 458L239 463M185 308L182 302M223 481L222 487M171 291L166 282M136 324L130 317M255 362L264 358M103 454L96 456M304 369L310 367M291 410L296 412M296 361L302 363M119 480L113 487M93 397L86 395M291 396L297 403M223 321L229 317M224 296L224 289M81 371L74 368M225 296L228 291M177 513L177 518M148 318L145 311M135 434L130 438M136 328L134 323M281 374L292 375M266 401L273 402M228 502L229 511M224 451L229 457M218 460L218 467M108 346L105 341M281 460L288 462M162 282L164 272M240 434L245 443M139 430L130 431M92 462L88 465M283 410L291 414M115 388L109 389M268 451L273 452M152 451L148 457M164 279L161 273M264 311L272 304M304 359L308 354M253 443L259 446M199 291L209 286M258 370L264 366M233 295L239 285M223 337L225 332M168 312L159 306M274 451L280 455M190 479L189 486M248 334L253 331M162 466L157 474M139 485L132 493M178 481L180 487M164 316L160 310M242 301L244 296M98 409L92 404M264 350L270 346M262 433L266 437M267 396L272 397" stroke="#aebd8c" stroke-opacity="0.3" stroke-width="5" stroke-linecap="round" fill="none"/></g>
<g clip-path="url(#clipL)"><rect x="60" y="263" width="262" height="262" filter="url(#clumps)" opacity="0.28"/><rect x="60" y="263" width="262" height="262" filter="url(#glints)" opacity="0.5"/></g>
<g fill="#eef0ea" fill-opacity="0.75" filter="url(#fuzzEdge)"><circle cx="199" cy="304" r="2.4"/><circle cx="263" cy="355" r="2.1"/><circle cx="240" cy="322" r="3.3"/><circle cx="188" cy="308" r="2.6"/><circle cx="154" cy="315" r="2.3"/><circle cx="269" cy="357" r="2.7"/><circle cx="167" cy="309" r="1.8"/><circle cx="153" cy="312" r="2.9"/><circle cx="121" cy="340" r="3.2"/><circle cx="189" cy="310" r="2.1"/><circle cx="114" cy="360" r="2.3"/><circle cx="271" cy="387" r="2.1"/><circle cx="156" cy="316" r="3.4"/><circle cx="214" cy="313" r="2.3"/><circle cx="112" cy="390" r="3.0"/><circle cx="229" cy="318" r="1.6"/><circle cx="258" cy="347" r="1.7"/><circle cx="110" cy="368" r="3.0"/><circle cx="182" cy="309" r="3.7"/><circle cx="250" cy="335" r="3.4"/><circle cx="271" cy="371" r="2.7"/><circle cx="190" cy="310" r="2.4"/><circle cx="113" cy="352" r="3.0"/><circle cx="269" cy="385" r="3.8"/><circle cx="107" cy="372" r="3.2"/><circle cx="180" cy="311" r="3.7"/><circle cx="134" cy="327" r="3.5"/><circle cx="269" cy="372" r="1.8"/><circle cx="124" cy="343" r="2.2"/><circle cx="207" cy="306" r="2.1"/><circle cx="266" cy="362" r="2.6"/><circle cx="262" cy="351" r="3.2"/><circle cx="263" cy="357" r="3.0"/><circle cx="234" cy="316" r="3.1"/><circle cx="139" cy="325" r="1.5"/><circle cx="177" cy="311" r="2.1"/><circle cx="232" cy="314" r="2.2"/><circle cx="131" cy="338" r="2.2"/><circle cx="112" cy="377" r="3.1"/><circle cx="269" cy="369" r="3.0"/><circle cx="153" cy="317" r="3.6"/><circle cx="112" cy="391" r="2.3"/><circle cx="186" cy="307" r="3.2"/><circle cx="124" cy="337" r="3.0"/><circle cx="137" cy="331" r="3.5"/><circle cx="266" cy="409" r="2.8"/><circle cx="158" cy="316" r="3.8"/><circle cx="164" cy="313" r="2.2"/><circle cx="245" cy="333" r="2.9"/><circle cx="120" cy="349" r="2.5"/><circle cx="258" cy="415" r="3.7"/><circle cx="219" cy="312" r="2.0"/><circle cx="266" cy="396" r="2.9"/><circle cx="266" cy="376" r="2.0"/><circle cx="263" cy="416" r="1.9"/><circle cx="116" cy="350" r="3.2"/><circle cx="173" cy="309" r="3.2"/><circle cx="178" cy="307" r="2.2"/><circle cx="163" cy="315" r="3.5"/><circle cx="268" cy="408" r="2.2"/><circle cx="213" cy="311" r="3.5"/><circle cx="201" cy="308" r="3.4"/><circle cx="187" cy="304" r="1.9"/><circle cx="142" cy="322" r="2.3"/><circle cx="192" cy="310" r="3.6"/><circle cx="167" cy="309" r="3.7"/><circle cx="175" cy="307" r="2.9"/><circle cx="114" cy="356" r="3.8"/><circle cx="232" cy="316" r="3.7"/><circle cx="152" cy="318" r="2.8"/></g>
<g filter="url(#fuzzEdge)"><g clip-path="url(#clipLin)"><rect x="110" y="308" width="160" height="152" filter="url(#texBlue)"/></g></g>
<path d="M187 465L187 440M214 470L207 436M242 466L243 441M255 473L254 449M212 469L216 451M188 471L184 448M230 468L234 437M156 467L156 441M140 467L137 445M172 468L174 444M149 467L149 439M189 466L192 438M251 473L254 440M215 468L214 448M207 470L207 450M130 466L131 438M201 470L205 436M134 473L136 441M208 469L213 451M193 474L196 450M245 466L242 444M189 467L187 432M128 468L128 445M191 467L193 440M207 470L209 449M141 474L138 438M221 466L220 435M200 466L194 444M134 466L133 443M214 471L214 437M253 465L253 445M140 467L142 445M202 472L203 449M196 467L196 449M243 473L244 447M260 472L262 444M131 473L125 444M184 473L185 442M219 472L222 446M151 468L150 446M230 470L232 445M170 465L169 431M182 472L178 448M226 468L228 442M176 466L177 441" stroke="#94a46a" stroke-opacity="0.9" stroke-width="4.5" stroke-linecap="round" fill="none" clip-path="url(#clipLrods)" filter="url(#soft)"/>
<path d="M161 473L159 451M252 466L251 439M263 473L258 453M179 467L183 436M156 472L158 441M134 466L131 440M234 466L240 446M233 471L229 443M211 469L210 443M161 471L163 441M174 470L176 452M227 474L232 449M208 466L212 442M164 468L169 434M120 473L126 449M213 468L208 441M155 471L154 441M213 466L212 436M146 472L149 453M211 466L208 446M232 472L231 450M139 467L139 443M180 468L177 442M260 472L265 453M165 472L168 448M231 468L229 447M233 471L232 447M186 469L185 445M217 471L217 448M189 464L192 437M120 468L118 450M211 471L211 443M263 472L261 440M213 465L211 435M151 471L146 447M145 464L142 435M144 473L142 442" stroke="#86965c" stroke-opacity="0.9" stroke-width="4.5" stroke-linecap="round" fill="none" clip-path="url(#clipLrods)" filter="url(#soft)"/>
<path d="M206 474L207 442M260 469L258 449M259 464L256 445M193 470L194 445M212 465L209 431M163 466L164 443M195 466L190 445M199 469L200 438M245 474L243 455M127 466L125 438M203 469L203 441M228 470L230 443M182 474L181 439M253 468L251 439M141 472L143 440M213 472L213 440M187 473L194 449M229 468L226 433M188 471L189 445M189 467L188 438M211 467L212 442M135 468L135 443M192 472L188 440M121 470L121 452M247 473L247 452M241 472L244 444M164 466L163 445M162 468L164 445" stroke="#a0b07a" stroke-opacity="0.9" stroke-width="4.5" stroke-linecap="round" fill="none" clip-path="url(#clipLrods)" filter="url(#soft)"/>
<g filter="url(#soft)"><circle cx="211.9" cy="367.4" r="3.2" fill="#3ab67a"/>
<circle cx="240.9" cy="373.4" r="2.7" fill="#2c9a6c"/>
<circle cx="126.0" cy="406.8" r="3.0" fill="#3ab67a"/>
<circle cx="170.4" cy="428.7" r="3.1" fill="#3ab67a"/>
<circle cx="165.5" cy="430.1" r="3.2" fill="#2c9a6c"/>
<circle cx="179.0" cy="334.4" r="3.0" fill="#2c9a6c"/>
<circle cx="202.5" cy="416.6" r="2.5" fill="#3ab67a"/>
<circle cx="194.1" cy="407.8" r="2.5" fill="#36ad76"/>
<circle cx="178.1" cy="437.6" r="2.6" fill="#36ad76"/>
<circle cx="214.3" cy="435.8" r="2.7" fill="#36ad76"/>
<circle cx="163.2" cy="338.0" r="2.9" fill="#36ad76"/>
<circle cx="191.9" cy="353.8" r="2.7" fill="#2c9a6c"/>
<circle cx="229.2" cy="430.9" r="3.1" fill="#2c9a6c"/>
<circle cx="229.6" cy="357.9" r="2.4" fill="#3ab67a"/>
<circle cx="208.5" cy="380.7" r="2.9" fill="#3ab67a"/>
<circle cx="213.2" cy="418.5" r="2.9" fill="#36ad76"/>
<circle cx="212.1" cy="356.9" r="3.1" fill="#2c9a6c"/>
<circle cx="128.8" cy="422.0" r="2.8" fill="#36ad76"/>
<circle cx="161.5" cy="375.0" r="2.6" fill="#2c9a6c"/>
<circle cx="230.0" cy="363.4" r="3.1" fill="#36ad76"/>
<circle cx="152.5" cy="438.2" r="3.0" fill="#36ad76"/>
<circle cx="158.3" cy="333.5" r="2.7" fill="#2c9a6c"/>
<circle cx="184.7" cy="445.1" r="2.7" fill="#3ab67a"/>
<circle cx="219.8" cy="376.7" r="2.6" fill="#36ad76"/>
<circle cx="204.5" cy="358.1" r="3.0" fill="#3ab67a"/>
<circle cx="220.3" cy="353.8" r="2.7" fill="#3ab67a"/>
<circle cx="261.4" cy="368.5" r="2.5" fill="#2c9a6c"/>
<circle cx="213.1" cy="443.6" r="2.6" fill="#3ab67a"/>
<circle cx="210.4" cy="440.8" r="2.8" fill="#3ab67a"/>
<circle cx="139.2" cy="362.9" r="2.4" fill="#2c9a6c"/>
<circle cx="165.0" cy="410.6" r="3.2" fill="#2c9a6c"/>
<circle cx="206.6" cy="410.2" r="2.9" fill="#2c9a6c"/>
<circle cx="150.7" cy="341.2" r="3.1" fill="#2c9a6c"/>
<circle cx="231.5" cy="438.6" r="2.9" fill="#3ab67a"/>
<circle cx="177.1" cy="450.5" r="3.2" fill="#36ad76"/>
<circle cx="147.9" cy="416.0" r="2.7" fill="#36ad76"/>
<circle cx="159.3" cy="388.9" r="3.2" fill="#3ab67a"/>
<circle cx="246.1" cy="410.0" r="2.9" fill="#3ab67a"/></g>
</g>
<g id="sphereR">
<circle cx="1208" cy="397" r="123" fill="#8b9b60" filter="url(#fuzzEdge)"/>
<g filter="url(#soft)"><path d="M1232 295L1235 288M1291 377L1301 381M1214 511L1216 519M1152 329L1146 322M1118 325L1109 323M1212 298L1210 290M1304 464L1311 468M1134 412L1128 412M1157 314L1152 304M1150 343L1141 337M1160 505L1156 510M1299 318L1302 314M1240 462L1244 469M1266 483L1275 486M1281 424L1290 429M1308 462L1312 465M1270 475L1278 483M1305 450L1310 458M1277 482L1280 489M1182 305L1184 300M1190 291L1190 283M1316 434L1322 437M1315 413L1322 416M1268 471L1267 482M1294 316L1298 312M1225 485L1222 492M1148 323L1143 315M1294 406L1300 403M1167 500L1163 509M1171 488L1165 491M1190 320L1190 312M1146 460L1143 465M1214 327L1214 318M1291 371L1301 368M1134 400L1123 399M1222 294L1224 285M1309 344L1314 341M1158 308L1160 301M1113 364L1104 365M1232 295L1231 289M1286 437L1292 435M1292 378L1297 377M1123 403L1118 401M1126 412L1119 412M1301 467L1301 474M1127 314L1122 310M1252 471L1258 478M1219 286L1217 277M1305 434L1314 441M1192 308L1191 299M1109 337L1104 334M1293 454L1301 454M1275 452L1281 454M1116 401L1109 405M1302 445L1312 445M1190 285L1189 275M1285 460L1290 463M1281 384L1288 385M1143 441L1141 446M1132 467L1126 474M1302 426L1312 426M1174 298L1173 292M1325 416L1329 414M1257 470L1265 473M1284 325L1290 318M1156 489L1152 497M1250 493L1248 500M1278 324L1286 317M1314 436L1323 430M1170 307L1163 302M1298 394L1305 395M1158 505L1156 511M1250 332L1255 324M1221 286L1222 278M1224 466L1221 474M1323 396L1332 400M1166 485L1158 488M1162 469L1159 474M1124 389L1117 386M1268 367L1273 357M1150 445L1145 448M1168 469L1161 471M1172 308L1164 303M1238 479L1246 486M1289 479L1291 487M1292 429L1300 430M1276 458L1279 462M1191 492L1191 497M1288 385L1295 383M1229 281L1231 275M1257 289L1261 284M1258 345L1259 339M1136 305L1131 298M1300 403L1309 397M1286 435L1294 439M1224 478L1228 484M1176 296L1172 287M1141 334L1135 332M1248 467L1255 474M1102 446L1097 448M1133 364L1125 358M1267 436L1277 441M1136 428L1132 432M1324 424L1329 427M1240 466L1241 472M1234 315L1235 310M1132 356L1124 353M1150 493L1147 498M1259 334L1264 329M1130 361L1121 359M1258 455L1262 462M1300 365L1305 359M1165 470L1163 478M1229 469L1234 476M1194 495L1193 505M1317 389L1327 393M1195 279L1191 274M1316 437L1323 440M1111 462L1107 468M1278 309L1282 303M1217 296L1221 290M1139 449L1132 454M1291 389L1296 392M1124 338L1118 335M1289 416L1294 422M1093 400L1085 402M1190 513L1187 520M1244 497L1249 499M1171 495L1165 498M1196 328L1192 324M1185 486L1178 492M1268 301L1273 293M1315 410L1322 408M1204 301L1203 296M1293 386L1299 383M1263 450L1270 456M1174 320L1170 316M1137 429L1133 432M1197 501L1194 506M1280 422L1286 425M1313 457L1316 460M1301 393L1309 399M1125 341L1117 342M1120 427L1109 428M1301 340L1309 336M1186 310L1186 304M1231 487L1236 496M1255 490L1258 498M1314 355L1323 350M1226 500L1227 507M1247 341L1250 336M1146 299L1140 292M1186 315L1180 307M1180 488L1180 494M1123 355L1115 350M1280 368L1287 364M1298 414L1304 414M1221 513L1223 521M1170 468L1172 476M1265 298L1267 292M1306 356L1316 355M1177 498L1175 505M1096 438L1090 439M1119 392L1112 388M1267 350L1271 344M1120 329L1115 322M1130 348L1127 343M1294 370L1299 365M1167 287L1166 280M1298 412L1301 418M1231 327L1236 322M1103 351L1096 350M1186 476L1185 483M1274 474L1274 479M1169 486L1168 494M1309 417L1319 414M1142 329L1135 324M1310 353L1317 348M1126 448L1116 449M1329 398L1333 399M1283 336L1290 330M1154 453L1149 454M1136 360L1128 358M1302 466L1307 472M1255 287L1257 282M1232 507L1236 513M1207 324L1202 317M1132 353L1123 348M1231 302L1232 292M1101 430L1095 431M1140 387L1129 384M1290 409L1296 413" stroke="#a2b27e" stroke-opacity="0.45" stroke-width="4" stroke-linecap="round" fill="none"/>
<path d="M1174 337L1169 330M1173 477L1167 486M1118 378L1108 382M1275 330L1283 325M1220 278L1223 274M1113 339L1108 340M1312 388L1319 389M1277 410L1285 411M1277 367L1285 362M1225 325L1226 320M1287 424L1294 424M1208 287L1209 279M1135 373L1124 374M1123 477L1120 483M1145 348L1138 345M1162 498L1159 508M1277 493L1279 499M1282 371L1292 377M1181 298L1179 288M1109 365L1100 364M1220 493L1221 500M1163 473L1159 478M1285 424L1291 422M1148 431L1139 433M1193 303L1190 293M1113 427L1105 432M1118 445L1108 444M1208 313L1200 306M1147 431L1141 435M1254 458L1257 466M1252 315L1260 311M1141 310L1137 306M1262 310L1266 303M1172 468L1168 473M1210 475L1213 483M1145 461L1135 463M1246 293L1245 286M1129 362L1122 363M1284 366L1290 362M1101 370L1096 370M1323 427L1329 427M1094 371L1087 368M1278 433L1279 439M1282 381L1288 377M1112 390L1103 389M1262 313L1265 305M1277 436L1286 435M1207 298L1207 292M1124 311L1122 306M1123 410L1120 415M1230 324L1231 319M1228 482L1227 492M1149 501L1147 506M1288 402L1298 404M1140 442L1133 448M1106 429L1098 433M1310 393L1315 392M1304 391L1311 394M1216 304L1216 299M1276 303L1281 299M1290 317L1293 312M1222 506L1227 516M1231 298L1228 289M1288 339L1296 334M1225 299L1226 291M1310 414L1316 416M1096 364L1088 367M1286 482L1295 486M1157 504L1159 510M1269 472L1272 476M1143 437L1141 447M1259 342L1262 335M1127 401L1120 400M1124 439L1118 441M1212 285L1209 280M1112 458L1106 465M1296 354L1305 350M1197 498L1199 504M1233 502L1240 510M1175 303L1170 298M1211 515L1207 521M1142 354L1136 351M1303 351L1311 351M1141 425L1136 425M1221 302L1226 295M1148 466L1142 471M1144 457L1142 461M1317 350L1322 345M1200 475L1203 484M1171 483L1164 490M1134 456L1127 459M1284 378L1292 376M1156 308L1152 299M1319 408L1327 405M1292 442L1297 448M1230 485L1230 494M1212 505L1212 510M1272 299L1277 293M1159 294L1154 286M1139 314L1134 304M1287 384L1294 384M1093 432L1089 435M1240 466L1240 476M1149 314L1149 308M1227 283L1225 277M1276 360L1280 355M1269 449L1272 460M1277 490L1280 495M1147 427L1139 434M1238 495L1242 503M1200 321L1200 311M1299 455L1309 460M1268 440L1275 448M1294 384L1300 379M1252 337L1256 328M1237 322L1242 319M1252 469L1255 475M1171 468L1170 474M1229 491L1235 500M1115 416L1109 421M1126 457L1117 461M1157 313L1153 307M1115 363L1109 357M1313 383L1323 380M1303 353L1310 351M1292 399L1298 399M1263 497L1265 502M1105 404L1097 405M1186 495L1185 501M1137 355L1130 349M1205 298L1204 293M1214 494L1217 499M1113 426L1107 432M1149 324L1143 319M1215 464L1216 469M1265 460L1269 464M1312 444L1321 449M1152 494L1146 503M1240 280L1242 277M1257 503L1255 510M1229 486L1231 491M1248 452L1252 460M1308 392L1314 392M1129 363L1119 365M1160 326L1157 316M1216 279L1213 273M1150 355L1145 352M1246 501L1249 506M1132 356L1122 354M1137 374L1130 374M1119 393L1113 397M1265 467L1272 471M1179 475L1177 479M1137 378L1128 372M1103 352L1099 348M1175 482L1173 487M1273 362L1281 359M1158 320L1159 313M1289 456L1293 459M1100 386L1094 389M1201 491L1199 497M1277 392L1287 392M1230 292L1237 285M1158 343L1152 338M1176 502L1174 510M1295 346L1305 342M1287 440L1293 442M1091 387L1084 392M1150 357L1145 349M1234 318L1236 309M1326 421L1330 422M1309 340L1314 338M1264 340L1269 335M1216 464L1220 473M1286 387L1292 387M1109 435L1100 436M1129 439L1121 441M1300 461L1305 469M1195 322L1193 311M1260 354L1266 347M1112 401L1106 400M1265 462L1272 468M1306 434L1317 437M1106 351L1100 349M1249 290L1253 285M1132 334L1126 330M1231 301L1226 295M1268 306L1275 301M1272 306L1275 302M1154 310L1153 302M1169 477L1165 481M1248 312L1256 307M1309 372L1319 378M1153 321L1148 315M1136 396L1130 403M1228 468L1231 473M1221 493L1226 498M1230 327L1228 320M1148 332L1143 328M1265 317L1269 313M1247 482L1252 491M1151 347L1143 340M1088 392L1083 391M1151 460L1149 470" stroke="#a2b27e" stroke-opacity="0.45" stroke-width="5" stroke-linecap="round" fill="none"/>
<path d="M1141 421L1133 421M1159 478L1154 483M1117 319L1114 315M1166 323L1167 315M1195 289L1191 284M1310 410L1320 415M1102 391L1096 390M1191 326L1192 320M1303 366L1311 368M1324 396L1330 401M1181 315L1177 306M1284 408L1293 404M1209 488L1207 497M1106 421L1100 419M1106 410L1097 410M1178 483L1179 492M1093 392L1085 395M1211 310L1208 304M1187 473L1185 480M1251 286L1249 281M1312 378L1320 377M1173 473L1167 478M1132 342L1125 339M1253 309L1256 303M1264 502L1267 507M1302 462L1308 464M1125 431L1119 432M1276 298L1279 294M1317 356L1321 351M1195 320L1195 309M1255 450L1260 453M1281 310L1286 304M1110 395L1101 393M1276 484L1281 488M1110 453L1105 457M1101 358L1096 354M1311 389L1321 390M1167 326L1161 321M1298 446L1301 450M1096 409L1088 413M1296 342L1305 337M1247 293L1252 287M1282 446L1287 454M1108 345L1101 340M1185 286L1185 281M1137 465L1134 471M1308 410L1318 411M1221 287L1220 280M1278 444L1285 448M1168 327L1158 326M1125 462L1121 470M1203 486L1201 491M1224 287L1228 277M1116 369L1106 366M1128 473L1121 477M1312 422L1317 424M1144 347L1137 343M1212 304L1212 298M1265 448L1272 455M1254 297L1256 290M1107 350L1097 347M1246 470L1246 478M1128 357L1120 353M1181 496L1179 506M1290 311L1296 309M1282 430L1288 432M1202 300L1204 292M1137 378L1127 376M1232 284L1239 276M1315 371L1320 370M1281 340L1286 335M1256 306L1259 300M1164 297L1161 287M1109 430L1101 429M1201 317L1204 312M1244 503L1242 512M1155 333L1147 331M1309 399L1317 400M1194 289L1193 284M1253 292L1257 284M1214 320L1215 310M1113 370L1104 369M1315 422L1321 422M1302 467L1310 467M1293 321L1301 314M1250 314L1258 311M1156 347L1152 341M1231 482L1235 488M1271 314L1276 309M1231 328L1234 319M1306 387L1314 389M1251 453L1254 458M1263 355L1271 353M1224 509L1221 518M1167 473L1162 483M1101 396L1096 393M1130 360L1124 354M1173 482L1170 488M1292 471L1299 478M1248 482L1247 493M1151 498L1152 508M1191 302L1187 300M1133 331L1128 325M1288 415L1292 419M1272 466L1278 470M1172 458L1170 464M1118 414L1110 412M1304 344L1311 337M1127 381L1121 378M1117 466L1111 467M1126 354L1122 349M1146 312L1143 307M1282 429L1289 433M1106 378L1100 379M1227 310L1232 302M1282 492L1283 497M1140 352L1133 350M1198 324L1195 318M1104 449L1098 450M1248 496L1250 504M1314 449L1319 453M1245 328L1250 320M1285 427L1292 434M1254 497L1258 505M1289 487L1293 488M1240 324L1242 319M1246 476L1251 486M1226 491L1228 496M1255 332L1259 327M1297 413L1307 414M1256 298L1262 289M1281 397L1287 396M1251 330L1255 323M1217 317L1219 307M1241 490L1243 498M1160 461L1158 469M1141 321L1132 317M1296 421L1301 419M1251 334L1257 331M1298 432L1304 438M1262 472L1263 478M1124 483L1121 487M1108 430L1103 430M1295 415L1305 412M1304 403L1312 405M1228 490L1229 497M1285 389L1291 387M1276 395L1283 396M1111 397L1104 397M1265 311L1271 304M1276 420L1282 419M1262 440L1267 447M1207 494L1207 500M1228 280L1229 274M1289 375L1295 372M1180 320L1180 314M1269 336L1275 333M1114 401L1105 401M1184 303L1181 297M1163 338L1156 330M1290 407L1296 407M1152 456L1147 463M1143 371L1133 371M1173 286L1171 281M1256 487L1260 492M1292 460L1297 465M1123 387L1118 395M1193 468L1193 475M1275 443L1280 449M1266 305L1274 298M1252 337L1254 332M1306 460L1313 461M1320 432L1326 434M1290 403L1295 404M1261 485L1267 489M1250 502L1256 509M1289 349L1295 344M1226 473L1232 481M1284 476L1292 483M1316 398L1322 396M1123 444L1118 453M1122 361L1116 355M1268 480L1274 487M1201 287L1202 277M1135 330L1125 327M1281 453L1288 458M1124 440L1117 443M1113 381L1105 376M1212 509L1211 515M1262 492L1262 498M1327 411L1332 413M1221 516L1223 521M1270 451L1277 455M1256 324L1251 316M1218 327L1220 320M1295 460L1300 462M1259 488L1262 493M1275 316L1279 311M1246 498L1247 504M1175 495L1175 505M1285 361L1290 355M1109 419L1103 421" stroke="#76864c" stroke-opacity="0.5" stroke-width="4" stroke-linecap="round" fill="none"/>
<path d="M1299 349L1310 347M1257 298L1262 290M1099 380L1091 375M1186 303L1187 294M1114 337L1104 333M1245 316L1243 305M1298 457L1308 459M1128 482L1123 489M1177 286L1176 278M1323 417L1329 423M1242 472L1249 475M1104 345L1097 340M1139 312L1136 305M1296 423L1305 428M1293 369L1299 360M1258 345L1260 338M1187 498L1186 506M1140 339L1129 339M1120 376L1115 374M1104 424L1095 425M1286 423L1293 428M1192 505L1190 514M1108 346L1103 344M1290 359L1298 355M1271 351L1275 345M1266 462L1266 470M1324 409L1330 412M1268 463L1275 465M1129 465L1126 470M1235 458L1240 462M1242 478L1251 485M1137 438L1131 441M1133 478L1128 488M1174 303L1172 298M1199 488L1198 495M1236 462L1240 470M1100 397L1091 400M1205 497L1206 508M1206 473L1208 481M1238 489L1239 494M1285 419L1292 419M1304 333L1310 331M1239 504L1238 514M1130 425L1122 431M1125 422L1116 426M1112 438L1106 438M1160 462L1150 465M1267 440L1273 448M1146 473L1142 479M1190 484L1187 490M1254 491L1258 495M1150 308L1147 301M1154 480L1158 488M1138 330L1130 327M1290 426L1300 429M1275 393L1283 391M1146 449L1144 457M1176 318L1172 311M1157 350L1152 342M1161 290L1159 285M1195 298L1193 293M1266 469L1271 476M1223 289L1221 282M1217 293L1217 287M1154 481L1147 489M1104 354L1100 351M1159 347L1154 345M1153 442L1144 449M1274 469L1280 475M1106 429L1098 435M1109 400L1104 406M1199 477L1201 485M1257 344L1260 340M1094 397L1085 403M1286 480L1295 487M1115 386L1108 385M1289 338L1294 330M1127 434L1120 438M1160 445L1152 451M1257 298L1259 292M1293 447L1299 451M1241 498L1244 507M1090 408L1084 410M1306 463L1308 470M1151 299L1148 294M1128 363L1121 360M1134 331L1125 326M1121 338L1116 334M1180 468L1172 471M1097 433L1090 434M1205 505L1209 509M1247 333L1257 332M1186 467L1183 472M1224 288L1223 280M1109 375L1101 374M1122 404L1116 403M1188 498L1184 506M1298 432L1305 438M1126 364L1119 364M1297 356L1305 355M1146 328L1140 322M1170 478L1163 485M1290 438L1297 441M1305 399L1312 398M1169 470L1165 477M1163 487L1167 492M1180 291L1182 282M1116 443L1113 449M1167 291L1163 282M1133 460L1125 466M1299 416L1304 421M1240 494L1243 501M1247 478L1249 484M1292 313L1295 308M1129 414L1124 416M1319 438L1325 440M1217 480L1216 489M1207 299L1210 289M1229 500L1231 505M1289 455L1295 460M1300 379L1310 379M1151 476L1142 479M1173 489L1171 497M1181 494L1177 503M1269 495L1269 505M1187 311L1185 305M1253 309L1256 301M1175 310L1169 302M1290 390L1300 391M1250 294L1249 284M1109 346L1104 343M1270 298L1274 291M1248 503L1249 513M1296 468L1301 471M1138 460L1131 466M1160 454L1153 456M1115 471L1111 476M1137 429L1127 428M1230 310L1231 299M1114 398L1105 394M1167 497L1163 508M1266 443L1272 445M1109 359L1099 356M1268 435L1274 437M1295 440L1299 443M1321 431L1328 431M1189 315L1192 307M1120 395L1112 392M1281 490L1284 496M1256 311L1257 305M1307 344L1312 341M1275 379L1283 379M1190 495L1190 505M1127 319L1122 313M1107 433L1102 436M1246 462L1248 469M1119 467L1112 471M1134 328L1130 324M1217 318L1216 312M1153 464L1148 471M1209 296L1207 290M1161 308L1158 300M1173 283L1172 277M1293 398L1301 395M1119 423L1112 428M1113 423L1106 418M1096 375L1090 374M1300 371L1306 370M1283 318L1288 311M1142 383L1136 378M1157 475L1152 479M1257 342L1262 339M1217 472L1215 481M1274 410L1282 412M1132 328L1126 328M1207 518L1208 522M1146 298L1141 293M1289 364L1298 362M1277 339L1285 332M1121 354L1112 352M1157 293L1151 287M1246 284L1242 278M1237 490L1247 492M1201 307L1199 299M1115 427L1107 424M1223 473L1226 479M1109 365L1104 361M1182 503L1182 509M1183 498L1180 504M1239 287L1239 282M1197 465L1195 471M1289 430L1296 430M1126 478L1119 485M1149 437L1144 441M1120 434L1114 440M1155 312L1152 304M1116 459L1110 461M1209 511L1203 519M1217 282L1221 274M1312 364L1320 362M1250 493L1254 502M1224 478L1224 483M1230 298L1233 293M1103 413L1093 412M1098 359L1092 353M1160 504L1153 507M1257 458L1262 461" stroke="#76864c" stroke-opacity="0.5" stroke-width="5" stroke-linecap="round" fill="none"/>
<path d="M1275 375L1284 372M1324 419L1331 418M1266 465L1271 467M1166 484L1167 491M1139 385L1128 383M1324 384L1329 386M1193 469L1194 477M1130 310L1125 305M1293 444L1296 453M1103 432L1096 439M1212 322L1213 315M1178 473L1178 479M1122 320L1112 317M1251 307L1255 301M1091 401L1083 402M1141 320L1138 312M1174 501L1171 508M1141 393L1132 392M1088 387L1083 386M1135 411L1128 414M1292 341L1299 340M1235 489L1234 497M1143 462L1135 466M1128 343L1123 338M1250 331L1254 324M1273 308L1277 305M1253 478L1257 483M1299 433L1301 442M1124 425L1116 430M1269 490L1275 495M1284 407L1293 409M1258 498L1264 503M1119 363L1113 367M1150 319L1142 311M1196 289L1198 282M1192 316L1194 311M1185 493L1180 501M1276 416L1284 421M1125 335L1119 330M1247 331L1251 324M1122 413L1112 413M1211 488L1212 496M1307 462L1312 466M1116 386L1107 382M1153 313L1148 311M1100 345L1095 346M1294 366L1299 369M1302 445L1308 449M1196 319L1200 311M1147 333L1146 327M1180 337L1175 330M1124 455L1115 460M1123 422L1116 421M1215 491L1208 498M1227 294L1232 291M1146 311L1141 307M1166 494L1167 503M1106 339L1099 335M1277 343L1281 340M1128 439L1119 443M1287 319L1295 313M1289 463L1293 470M1302 376L1311 373M1177 482L1174 491M1188 307L1188 299M1142 315L1137 306M1091 395L1083 396M1279 412L1286 415M1204 507L1196 513M1294 346L1301 347M1280 346L1284 343M1171 303L1166 300M1315 353L1319 347M1178 468L1176 475M1207 483L1209 490M1194 280L1193 273M1289 473L1293 479M1102 345L1097 340M1174 471L1167 479M1134 412L1124 415M1125 379L1118 377M1283 425L1293 427M1169 308L1167 303M1142 455L1138 460M1244 284L1246 278M1143 406L1137 408M1168 285L1164 281M1126 456L1117 458M1138 424L1129 424M1269 480L1274 487M1228 299L1225 295M1287 328L1296 325M1208 309L1211 299M1269 473L1275 476M1098 415L1092 415M1112 370L1103 365M1188 328L1187 321M1131 375L1126 373M1148 442L1143 448M1285 340L1293 337M1154 341L1145 342M1281 459L1287 458M1126 421L1120 421M1160 458L1159 465M1107 410L1099 410M1293 420L1304 422M1226 485L1230 493M1313 395L1320 395M1145 365L1137 364M1219 282L1214 274M1199 315L1198 309M1135 421L1128 422M1159 445L1156 454M1283 386L1287 388M1202 294L1197 288M1163 459L1158 466M1312 377L1318 377M1241 469L1244 478M1287 310L1296 310M1256 328L1265 325M1109 438L1103 440M1234 494L1241 501M1272 453L1280 457M1131 328L1122 322M1260 302L1259 295M1164 452L1155 455M1125 427L1117 432M1297 446L1302 450M1213 277L1212 272M1135 431L1128 430M1115 412L1109 411M1326 406L1333 406M1260 334L1262 328M1120 362L1114 360M1111 464L1105 467M1327 412L1332 413M1199 304L1194 295M1248 507L1249 513M1267 354L1272 352M1223 313L1224 308M1181 477L1174 480M1251 460L1253 465M1100 345L1096 342M1167 501L1165 507M1232 296L1231 285M1159 500L1157 506M1154 448L1151 456M1256 457L1260 465M1111 360L1105 360M1293 429L1299 433M1126 411L1115 409M1255 444L1265 447M1315 420L1325 423M1266 470L1273 478M1187 489L1186 496M1150 310L1147 301M1252 285L1253 280M1146 310L1148 300M1164 476L1164 485M1291 395L1296 398M1302 446L1309 446M1288 398L1298 399M1292 312L1295 307M1131 434L1123 438M1140 333L1135 329M1288 320L1298 315M1130 342L1120 341M1200 328L1200 318M1135 381L1130 383M1325 425L1329 428M1286 380L1290 376M1288 396L1296 394M1299 389L1306 394M1312 399L1322 396M1168 454L1163 463M1268 366L1278 366M1294 410L1301 415" stroke="#93a369" stroke-opacity="0.55" stroke-width="4" stroke-linecap="round" fill="none"/>
<path d="M1185 470L1183 479M1265 333L1268 324M1304 465L1310 469M1176 281L1172 278M1284 338L1293 335M1235 470L1239 478M1213 292L1215 286M1328 385L1332 386M1240 508L1248 514M1244 478L1243 488M1122 429L1115 428M1157 333L1156 327M1150 452L1147 456M1179 505L1170 509M1257 300L1261 292M1239 309L1240 304M1130 331L1125 324M1135 481L1130 487M1276 323L1283 322M1285 366L1294 362M1224 479L1224 484M1212 291L1211 286M1261 305L1259 295M1142 298L1141 292M1236 293L1238 283M1163 491L1162 499M1148 469L1141 475M1145 464L1139 468M1207 482L1208 489M1242 296L1246 291M1297 403L1306 403M1164 340L1162 331M1108 348L1101 340M1119 317L1115 314M1140 410L1134 414M1253 464L1252 470M1265 356L1269 352M1160 454L1159 460M1269 345L1274 342M1296 339L1297 333M1306 463L1310 466M1190 287L1190 277M1231 513L1231 520M1177 318L1173 310M1126 315L1120 311M1284 358L1291 355M1272 449L1281 453M1261 497L1266 504M1116 324L1110 319M1157 346L1148 343M1295 391L1305 391M1131 365L1126 363M1142 440L1139 446M1287 316L1293 313M1188 280L1185 274M1314 365L1320 362M1291 450L1297 451M1318 351L1323 349M1169 288L1162 282M1190 495L1188 505M1138 445L1130 448M1296 406L1304 406M1251 328L1254 321M1198 473L1203 482M1187 510L1186 516M1133 370L1128 367M1235 284L1239 277M1209 465L1209 472M1255 448L1260 455M1160 463L1154 471M1173 287L1172 282M1109 449L1103 455M1183 508L1177 517M1270 431L1279 437M1249 487L1251 495M1138 380L1133 380M1121 321L1118 316M1113 442L1104 447M1234 286L1240 279M1137 398L1127 398M1133 435L1124 437M1232 466L1235 474M1257 322L1260 317M1161 337L1159 329M1310 432L1320 437M1152 336L1146 329M1222 476L1226 483M1243 491L1247 501M1306 344L1314 339M1218 290L1215 280M1297 392L1304 397M1222 473L1225 483M1295 362L1300 362M1217 489L1221 493M1302 435L1312 436M1187 298L1185 291M1201 478L1200 485M1096 397L1089 395M1293 367L1299 364M1240 323L1245 318M1254 288L1256 283M1183 320L1180 313M1320 362L1326 357M1186 294L1186 284M1304 440L1312 440M1111 444L1108 449M1167 452L1162 457M1137 436L1136 447M1140 339L1134 336M1210 313L1211 304M1282 475L1286 478M1280 384L1288 382M1313 437L1322 439M1245 477L1245 482M1147 479L1148 487M1143 461L1137 465M1109 396L1102 398M1111 363L1105 362M1263 302L1267 299M1301 466L1309 471M1134 474L1130 477M1268 499L1271 505M1136 336L1129 332M1111 398L1105 401M1122 378L1115 375M1269 489L1275 495M1294 347L1300 341M1142 481L1138 486M1285 340L1293 334M1230 328L1232 324M1327 379L1331 376M1298 357L1303 357M1236 317L1241 308M1195 329L1199 319M1283 465L1288 471M1165 296L1172 288M1122 427L1115 432M1304 358L1313 353M1095 362L1090 359M1233 332L1232 327M1238 302L1240 293M1274 325L1276 320M1217 289L1219 279M1172 462L1167 466M1266 489L1266 494M1138 352L1137 347M1108 413L1098 414M1132 433L1127 435M1232 487L1234 495M1149 455L1145 458M1108 393L1103 390M1296 473L1302 475M1291 350L1292 344M1291 376L1301 377M1199 298L1190 293M1202 312L1199 305M1310 344L1315 337M1293 378L1303 375M1158 347L1152 343M1225 511L1232 516M1225 493L1231 502M1225 466L1222 475M1300 456L1310 455M1277 472L1282 479M1294 398L1302 403M1152 443L1146 450M1311 338L1317 336M1184 508L1184 515M1284 343L1285 338M1150 446L1147 452M1282 333L1292 329M1211 490L1214 499M1169 283L1169 278M1130 453L1128 464M1293 370L1300 365M1290 437L1296 440M1265 461L1273 468M1186 472L1187 479M1264 495L1268 500M1130 464L1123 464M1240 491L1245 497M1152 330L1145 323M1185 308L1185 299M1192 278L1192 273M1130 359L1122 353M1167 468L1167 474M1143 453L1138 456M1188 471L1184 480M1236 493L1238 498M1111 411L1103 410M1120 422L1115 419" stroke="#93a369" stroke-opacity="0.55" stroke-width="5" stroke-linecap="round" fill="none"/>
<path d="M1114 345L1106 341M1109 419L1104 422M1159 485L1151 492M1160 474L1157 479M1133 449L1125 450M1277 381L1287 380M1124 336L1123 329M1165 326L1165 318M1189 481L1188 491M1124 433L1117 438M1224 500L1221 506M1275 399L1280 400M1309 344L1313 334M1230 308L1234 299M1188 463L1188 472M1124 333L1119 327M1233 478L1234 487M1319 381L1328 377M1289 486L1291 490M1154 313L1153 304M1115 352L1105 348M1302 409L1309 411M1231 298L1231 288M1112 405L1105 403M1148 475L1146 482M1273 415L1279 416M1287 393L1292 392M1120 406L1114 411M1272 365L1276 358M1291 357L1297 355M1185 497L1182 503M1319 402L1329 398M1321 366L1328 362M1318 391L1325 389M1110 455L1101 460M1139 376L1136 371M1188 316L1187 310M1131 351L1124 346M1199 317L1200 310M1170 485L1164 490M1214 282L1214 277M1135 447L1130 451M1131 336L1126 334M1209 331L1205 323M1284 396L1295 396M1273 445L1279 451M1128 358L1119 352M1137 407L1127 406M1276 363L1284 362M1113 358L1103 357M1267 317L1264 311M1152 479L1151 489M1310 371L1316 371M1327 410L1332 412M1278 448L1286 453M1106 435L1101 436M1291 357L1298 352M1123 356L1115 356M1117 361L1110 358M1269 355L1277 353M1162 476L1158 479M1254 319L1258 311M1198 495L1202 499M1088 412L1085 415M1307 415L1313 420M1220 486L1217 493M1221 295L1224 286M1291 324L1295 316M1238 456L1242 460M1191 323L1190 314M1089 418L1085 419M1200 473L1201 483M1197 467L1195 473M1191 315L1188 310M1117 473L1112 476M1292 414L1301 421M1121 357L1113 350M1098 372L1090 370M1257 451L1259 455M1186 472L1183 477M1305 365L1314 366M1126 468L1117 472M1101 445L1094 448M1241 286L1245 278M1234 474L1238 482M1255 460L1261 467M1274 413L1279 411M1159 448L1153 452M1125 358L1120 354M1251 453L1253 460M1176 493L1173 502M1288 408L1296 409M1271 365L1276 359M1152 295L1147 288M1203 504L1205 510M1145 355L1142 349M1147 295L1142 292M1185 510L1183 519M1154 312L1152 303M1275 297L1279 294M1131 310L1129 301M1217 294L1218 287M1282 380L1292 382M1099 399L1091 401M1209 283L1211 277M1238 503L1237 509M1180 492L1178 499M1287 487L1290 492M1259 331L1263 322M1180 474L1179 482M1187 479L1186 490M1256 315L1262 312M1170 503L1163 510M1205 497L1201 506M1126 470L1119 475M1240 503L1244 507M1101 399L1091 396M1142 348L1139 342M1244 508L1245 516M1136 437L1128 440M1257 303L1261 299M1094 390L1085 392M1114 378L1109 377M1192 299L1195 294M1306 429L1312 438M1313 428L1323 431M1167 464L1162 468M1241 505L1246 511M1303 395L1310 397M1228 494L1229 503M1266 300L1267 291M1135 399L1127 398M1182 319L1183 310M1134 324L1130 318M1207 472L1209 482M1211 298L1213 291M1160 323L1159 316M1180 293L1181 286M1237 486L1239 493M1274 314L1279 310M1243 337L1246 328M1204 490L1202 497M1220 480L1223 486M1138 364L1133 364M1144 442L1137 451M1298 412L1304 410M1091 415L1085 417M1293 475L1297 483M1256 506L1257 512M1324 372L1330 372M1184 305L1181 300M1147 311L1143 304M1220 510L1216 513M1147 338L1137 335M1088 400L1083 400M1125 344L1121 340M1145 377L1139 376M1312 426L1321 428M1277 329L1283 325M1155 349L1147 346M1199 503L1198 510M1267 308L1271 304M1318 409L1327 413M1106 384L1096 384M1265 485L1268 490M1281 478L1287 479M1124 449L1114 450M1289 395L1294 391M1266 442L1270 445M1126 394L1121 396M1122 333L1116 331M1187 320L1185 311M1134 343L1130 337M1133 332L1131 326M1114 412L1109 412M1237 328L1243 323M1142 315L1141 310M1155 483L1152 491M1192 514L1194 521M1174 337L1169 329M1319 413L1326 417M1192 279L1190 274M1267 479L1268 489M1238 486L1245 492M1126 434L1118 438M1134 480L1128 481M1109 406L1104 405" stroke="#5f6f3c" stroke-opacity="0.4" stroke-width="4" stroke-linecap="round" fill="none"/>
<path d="M1142 330L1138 326M1144 488L1142 498M1101 356L1092 353M1170 487L1169 493M1111 457L1107 464M1311 362L1320 360M1285 449L1294 452M1304 375L1309 374M1282 419L1289 418M1174 310L1170 304M1277 311L1280 306M1281 470L1288 472M1289 338L1294 330M1257 321L1257 310M1168 330L1164 324M1179 313L1179 303M1141 320L1133 316M1195 310L1191 304M1295 421L1302 423M1222 493L1223 502M1248 289L1252 283M1105 355L1095 350M1286 441L1291 443M1307 438L1313 439M1279 395L1287 395M1302 420L1313 421M1137 377L1128 376M1308 341L1311 334M1206 470L1207 475M1115 390L1108 391M1196 462L1194 471M1280 331L1284 323M1276 428L1285 433M1285 389L1291 385M1135 344L1128 342M1146 444L1142 453M1240 300L1246 292M1291 360L1297 353M1231 512L1232 518M1176 304L1173 298M1105 459L1101 462M1138 452L1133 456M1246 487L1248 495M1099 444L1093 447M1229 284L1229 274M1258 453L1263 459M1195 500L1195 510M1264 359L1270 356M1135 320L1126 315M1267 346L1272 336M1145 472L1141 479M1312 439L1323 439M1297 427L1305 429M1296 469L1303 476M1198 315L1200 309M1248 463L1253 468M1290 429L1300 426M1324 385L1329 382M1242 466L1238 476M1161 489L1157 496M1193 302L1190 294M1277 414L1285 410M1125 459L1116 464M1300 357L1308 355M1305 370L1314 367M1323 417L1331 417M1270 491L1270 501M1260 303L1268 302M1160 332L1153 327M1189 465L1189 474M1263 451L1267 459M1108 378L1102 377M1232 290L1237 283M1254 462L1257 471M1314 348L1321 344M1270 362L1278 359M1273 335L1281 329M1286 314L1290 310M1158 446L1154 450M1317 399L1327 396M1102 445L1095 448M1145 431L1135 433M1124 392L1119 390M1161 294L1159 287M1132 448L1126 455M1221 479L1227 482M1175 282L1173 277M1165 326L1158 319M1209 303L1206 293M1123 432L1121 441M1284 489L1288 493M1287 339L1292 335M1258 454L1265 460M1175 497L1169 505M1249 302L1247 296M1193 279L1189 274M1219 291L1219 286M1270 495L1277 501M1289 459L1295 464M1211 485L1213 491M1106 416L1101 418M1161 488L1157 496M1285 331L1291 325M1103 409L1095 409M1279 397L1286 396M1169 510L1168 515M1148 294L1144 289M1217 508L1217 513M1126 350L1121 343M1255 315L1259 307M1171 333L1168 327M1281 413L1292 417M1154 336L1151 328M1220 473L1220 480M1158 504L1154 510M1209 484L1209 493M1316 357L1323 353M1219 511L1221 521M1240 320L1243 311M1293 458L1303 460M1112 340L1106 336M1174 473L1173 478M1160 497L1153 503M1108 440L1098 444M1100 410L1094 408M1104 431L1096 429M1307 465L1312 466M1132 420L1124 423M1280 374L1286 371M1254 498L1255 504M1176 498L1175 503M1213 295L1211 284M1148 430L1142 435M1290 470L1297 473M1223 311L1221 306M1230 487L1233 495M1161 483L1162 490M1199 511L1199 519M1276 456L1283 461M1196 322L1195 315M1124 358L1115 354M1325 398L1332 396M1282 479L1286 487M1135 396L1127 396M1145 441L1144 446M1248 498L1250 508M1147 352L1140 350M1173 506L1171 514M1226 512L1228 520M1299 406L1308 408M1308 424L1313 430M1266 458L1270 462M1108 441L1102 444M1224 278L1225 273M1288 311L1293 306M1230 313L1233 308M1226 308L1226 302M1291 322L1299 315M1315 408L1319 413M1313 413L1321 410M1139 362L1134 360M1201 507L1199 516M1252 332L1253 326M1164 306L1162 301M1255 296L1258 289M1228 331L1231 324M1223 506L1226 516M1185 329L1184 321M1155 447L1149 452M1140 484L1139 492M1129 473L1126 477M1279 477L1285 480M1267 488L1269 495M1300 386L1310 384M1242 509L1247 515M1277 361L1282 357M1230 297L1232 291M1189 471L1181 477M1236 464L1238 472M1312 398L1319 398M1092 382L1085 382" stroke="#5f6f3c" stroke-opacity="0.4" stroke-width="5" stroke-linecap="round" fill="none"/>
<path d="M1223 319L1227 312M1257 318L1263 312M1285 304L1289 302M1188 291L1183 283M1284 374L1291 369M1298 354L1304 349M1227 329L1231 325M1095 425L1091 429M1308 434L1315 436M1295 361L1305 359M1183 314L1180 310M1190 289L1190 282M1098 397L1091 396M1305 328L1311 326M1129 336L1119 335M1159 495L1155 499M1268 490L1273 498M1304 415L1312 409M1260 293L1260 284M1205 493L1205 503M1281 431L1287 430M1178 285L1176 277M1284 324L1289 317M1158 314L1156 308M1221 329L1226 321M1213 283L1210 276M1260 450L1267 457M1124 476L1116 481M1228 497L1230 505M1171 333L1168 328M1298 329L1304 324M1101 432L1092 436M1156 489L1155 498M1253 315L1258 310M1304 465L1311 468M1296 387L1304 391M1126 375L1118 373M1229 503L1232 508M1262 463L1263 471M1266 351L1275 346M1242 322L1244 315M1210 297L1210 291M1142 408L1135 411M1222 302L1221 297M1109 386L1104 382M1213 497L1210 503M1235 319L1240 312M1160 496L1161 505M1307 464L1312 466M1222 323L1223 317M1321 368L1328 364M1128 462L1122 466M1127 387L1120 386M1225 309L1229 304M1098 350L1095 346M1160 491L1159 501M1286 404L1291 401M1214 282L1211 276M1165 479L1166 486M1156 327L1153 319M1100 393L1094 392M1260 504L1263 509M1221 477L1219 485M1248 309L1255 302M1180 512L1178 517M1206 307L1203 298M1172 468L1169 476M1201 281L1200 272M1167 478L1160 486M1092 404L1087 409M1276 442L1282 443M1105 419L1100 419M1276 458L1280 462M1282 364L1290 360M1135 333L1129 328M1214 323L1214 317M1240 331L1242 323M1130 436L1123 438M1251 306L1254 297M1246 474L1248 484M1259 470L1260 477M1107 395L1097 394M1114 340L1105 338M1132 489L1130 494M1219 321L1221 315M1094 363L1089 359M1268 439L1274 441M1108 349L1101 347M1275 394L1285 393M1287 461L1298 464M1121 419L1111 416M1163 293L1159 284M1189 301L1192 296M1242 302L1243 294M1243 466L1248 469M1323 419L1329 420M1190 507L1186 516M1121 328L1113 326M1280 370L1290 367M1178 495L1172 503M1161 498L1158 502M1263 469L1262 474M1151 324L1149 317M1126 418L1119 423M1266 346L1270 339M1119 420L1111 424M1155 318L1155 311M1139 487L1139 497M1298 395L1307 391M1180 289L1177 280M1269 459L1269 465M1250 314L1255 306M1231 304L1232 298M1130 458L1124 465M1277 382L1286 384M1271 324L1279 318M1281 405L1288 404M1120 352L1111 350M1134 371L1126 369M1116 446L1110 449M1181 495L1180 500M1224 475L1225 484M1173 282L1171 278M1298 359L1306 359M1195 301L1192 292M1288 330L1295 327M1247 338L1248 332M1118 369L1109 366M1257 474L1264 480M1135 362L1128 354M1276 442L1286 443M1261 442L1263 448M1176 475L1172 483M1283 442L1288 442M1213 472L1216 477M1284 381L1295 382M1096 416L1087 418M1216 323L1215 313M1177 480L1175 489M1270 309L1275 302M1223 314L1226 308M1111 340L1108 335M1261 351L1267 347M1132 431L1125 436M1234 333L1235 325M1290 476L1296 483M1103 432L1101 436M1154 467L1150 472M1258 337L1262 333M1204 312L1203 306M1096 383L1087 385M1303 362L1307 357M1281 384L1290 385M1153 306L1149 300M1236 491L1237 499M1237 309L1237 303M1241 480L1249 485M1115 340L1106 338M1130 323L1125 320M1213 287L1216 282M1174 307L1172 300M1142 448L1135 455M1151 322L1146 313M1288 421L1292 425M1263 480L1265 489M1131 454L1129 462M1260 473L1264 477M1274 423L1282 426M1239 502L1242 509M1168 337L1161 329M1263 320L1267 312M1306 386L1317 385M1300 401L1308 396M1257 346L1264 341M1113 403L1104 402M1260 450L1267 454M1101 386L1095 383M1107 368L1097 371M1273 332L1276 327M1129 452L1123 454M1296 375L1302 373M1181 489L1182 498M1130 443L1127 448M1107 429L1101 434M1176 487L1169 495M1162 498L1156 503M1255 490L1258 499" stroke="#aebd8c" stroke-opacity="0.3" stroke-width="4" stroke-linecap="round" fill="none"/>
<path d="M1229 472L1233 477M1220 471L1228 478M1170 332L1164 325M1175 465L1168 470M1174 283L1173 277M1251 336L1256 329M1274 471L1279 475M1139 356L1137 346M1210 325L1208 320M1124 412L1118 414M1180 298L1180 292M1134 392L1126 387M1188 466L1192 475M1095 390L1087 390M1272 482L1279 489M1120 403L1112 409M1205 516L1207 522M1158 473L1152 477M1120 338L1117 334M1207 320L1206 312M1288 399L1298 402M1278 416L1283 418M1133 432L1126 438M1133 331L1128 327M1281 335L1288 329M1148 332L1143 329M1250 322L1254 318M1138 427L1129 427M1088 407L1083 406M1221 292L1218 284M1257 286L1260 284M1247 320L1252 316M1111 417L1103 412M1274 412L1282 416M1278 437L1284 446M1203 470L1206 480M1160 320L1157 311M1319 376L1325 373M1249 289L1252 281M1178 513L1177 518M1310 392L1315 394M1219 296L1220 289M1142 320L1137 317M1303 325L1308 322M1132 348L1123 346M1224 306L1222 300M1100 350L1095 348M1291 468L1295 474M1115 362L1107 358M1274 307L1280 298M1309 381L1318 377M1156 328L1150 324M1098 401L1089 404M1228 516L1227 520M1161 447L1162 456M1221 318L1215 315M1233 313L1232 304M1125 327L1119 327M1106 433L1097 436M1309 343L1316 338M1186 298L1181 294M1307 424L1315 427M1133 429L1125 433M1164 296L1159 290M1303 329L1307 326M1161 306L1153 301M1281 460L1287 465M1125 483L1120 485M1247 468L1247 478M1203 468L1197 473M1275 416L1284 419M1180 511L1179 517M1266 363L1274 358M1303 398L1309 395M1305 400L1315 403M1122 449L1116 451M1205 468L1205 475M1168 328L1164 318M1311 375L1320 373M1213 313L1210 307M1212 501L1218 510M1321 366L1329 364M1138 491L1131 495M1190 292L1184 286M1106 392L1097 387M1308 451L1312 460M1104 374L1101 369M1265 359L1274 355M1282 304L1287 301M1272 297L1276 292M1138 439L1131 438M1298 345L1305 340M1132 338L1128 328M1272 443L1281 449M1280 308L1284 301M1129 315L1121 308M1256 336L1258 329M1286 407L1297 407M1307 424L1313 421M1230 320L1236 312M1131 472L1124 478M1148 438L1142 444M1308 337L1316 335M1265 298L1267 293M1180 327L1176 319M1269 438L1270 447M1274 352L1279 348M1121 316L1121 310M1245 318L1250 312M1192 294L1193 288M1190 317L1187 313M1136 363L1131 357M1208 297L1211 290M1315 393L1325 390M1290 398L1296 398M1308 353L1315 348M1154 442L1153 447M1278 376L1284 375M1178 314L1175 309M1300 347L1308 346M1130 401L1124 399M1261 330L1265 326M1277 335L1279 327M1150 328L1147 323M1245 322L1247 317M1291 331L1301 328M1288 348L1297 345M1255 337L1262 333M1304 428L1310 430M1323 383L1329 381M1120 456L1116 459M1145 430L1139 433M1157 492L1151 501M1260 329L1266 326M1197 278L1202 272M1303 462L1310 469M1140 448L1134 456M1125 324L1119 319M1161 488L1156 495M1126 437L1116 435M1207 278L1210 273M1232 504L1232 514M1268 452L1276 457M1211 515L1212 522M1311 374L1318 376M1125 406L1118 412M1166 295L1162 288M1253 286L1256 282M1219 509L1220 514M1318 417L1323 417M1294 426L1300 427M1315 384L1322 380M1264 311L1267 307M1201 277L1202 272M1272 356L1279 352M1153 466L1149 472M1124 413L1119 415M1320 400L1330 402M1196 303L1194 292M1239 318L1244 308M1196 498L1196 506M1113 331L1106 325M1260 294L1262 285M1132 353L1123 351M1265 480L1272 487M1137 358L1133 352M1148 426L1141 427M1130 411L1120 411M1280 357L1285 355M1293 404L1300 406M1292 414L1297 416M1132 306L1125 307" stroke="#aebd8c" stroke-opacity="0.3" stroke-width="5" stroke-linecap="round" fill="none"/></g>
<g clip-path="url(#clipR)"><rect x="1078" y="266" width="262" height="262" filter="url(#clumps)" opacity="0.28"/><rect x="1078" y="266" width="262" height="262" filter="url(#glints)" opacity="0.4"/></g>
<g fill="#fbfcf9" filter="url(#fuzzEdge)"><ellipse cx="1206" cy="383" rx="76" ry="72"/><circle cx="1219" cy="450" r="10.1"/><circle cx="1193" cy="323" r="11.4"/><circle cx="1211" cy="452" r="9.2"/><circle cx="1281" cy="389" r="8.9"/><circle cx="1280" cy="364" r="10.5"/><circle cx="1151" cy="349" r="10.4"/><circle cx="1143" cy="366" r="9.0"/><circle cx="1200" cy="312" r="9.2"/><circle cx="1141" cy="412" r="9.8"/><circle cx="1166" cy="429" r="9.3"/><circle cx="1148" cy="368" r="5.5"/><circle cx="1269" cy="402" r="8.2"/><circle cx="1214" cy="453" r="7.6"/><circle cx="1254" cy="347" r="7.2"/><circle cx="1148" cy="403" r="6.6"/><circle cx="1174" cy="333" r="9.1"/><circle cx="1147" cy="364" r="6.5"/><circle cx="1271" cy="391" r="8.4"/><circle cx="1149" cy="423" r="9.5"/><circle cx="1244" cy="332" r="7.1"/><circle cx="1216" cy="318" r="11.4"/><circle cx="1172" cy="448" r="5.1"/><circle cx="1193" cy="442" r="10.2"/><circle cx="1257" cy="348" r="7.1"/><circle cx="1267" cy="385" r="5.6"/><circle cx="1189" cy="323" r="10.0"/><circle cx="1164" cy="445" r="7.8"/><circle cx="1260" cy="425" r="7.2"/><circle cx="1191" cy="455" r="11.5"/><circle cx="1150" cy="431" r="8.9"/><circle cx="1160" cy="424" r="6.2"/><circle cx="1144" cy="401" r="10.3"/><circle cx="1217" cy="442" r="10.6"/><circle cx="1177" cy="328" r="6.3"/><circle cx="1217" cy="441" r="9.5"/><circle cx="1261" cy="355" r="7.7"/><circle cx="1264" cy="399" r="10.8"/><circle cx="1153" cy="344" r="11.3"/><circle cx="1180" cy="320" r="8.1"/><circle cx="1259" cy="419" r="6.1"/><circle cx="1246" cy="428" r="7.1"/><circle cx="1148" cy="420" r="10.4"/><circle cx="1261" cy="347" r="6.7"/><circle cx="1236" cy="440" r="9.2"/><circle cx="1129" cy="395" r="5.0"/><circle cx="1217" cy="441" r="7.5"/><circle cx="1269" cy="396" r="10.9"/><circle cx="1147" cy="349" r="7.1"/><circle cx="1220" cy="313" r="5.1"/><circle cx="1245" cy="435" r="9.7"/><circle cx="1273" cy="403" r="9.5"/><circle cx="1223" cy="449" r="8.4"/><circle cx="1135" cy="388" r="5.0"/><circle cx="1168" cy="335" r="9.1"/><circle cx="1172" cy="432" r="6.0"/><circle cx="1242" cy="330" r="10.0"/><circle cx="1193" cy="447" r="8.6"/><circle cx="1153" cy="437" r="7.2"/><circle cx="1196" cy="317" r="9.4"/><circle cx="1258" cy="347" r="7.0"/><circle cx="1220" cy="314" r="11.8"/><circle cx="1248" cy="429" r="11.7"/><circle cx="1166" cy="330" r="11.4"/><circle cx="1146" cy="370" r="7.3"/><circle cx="1188" cy="451" r="10.9"/><circle cx="1136" cy="407" r="5.8"/><circle cx="1185" cy="450" r="6.4"/><circle cx="1148" cy="335" r="11.4"/><circle cx="1168" cy="318" r="8.0"/><circle cx="1146" cy="414" r="5.4"/><circle cx="1236" cy="441" r="11.3"/><circle cx="1152" cy="412" r="10.5"/><circle cx="1239" cy="432" r="9.9"/><circle cx="1176" cy="443" r="7.8"/><circle cx="1271" cy="414" r="5.4"/><circle cx="1247" cy="426" r="5.8"/><circle cx="1137" cy="392" r="11.5"/><circle cx="1277" cy="393" r="8.3"/><circle cx="1147" cy="411" r="5.9"/><circle cx="1228" cy="445" r="8.8"/><circle cx="1153" cy="353" r="6.0"/><circle cx="1235" cy="323" r="7.0"/><circle cx="1139" cy="378" r="11.4"/><circle cx="1262" cy="414" r="6.1"/><circle cx="1183" cy="436" r="5.2"/><circle cx="1204" cy="318" r="7.4"/><circle cx="1265" cy="347" r="8.8"/><circle cx="1259" cy="350" r="6.7"/><circle cx="1185" cy="326" r="6.8"/><circle cx="1166" cy="440" r="8.5"/></g>
<g clip-path="url(#clipRin)" filter="url(#soft)">
<path d="M1177 447L1184 437L1186 423L1190 414L1200 399L1198 380L1203 371M1268 367L1280 366L1288 360M1201 316L1184 310M1225 402L1211 387L1207 376L1216 364L1206 345L1193 333M1232 369L1241 363L1248 381L1261 398L1275 404L1280 420M1288 395L1289 385L1284 376L1274 358L1276 337M1220 326L1209 308M1139 374L1127 383L1124 391M1249 414L1266 404L1280 401M1238 428L1251 424L1260 410L1260 399M1189 356L1201 358L1213 340L1221 330M1240 312L1255 327L1256 335L1249 347L1235 358L1232 368L1239 381L1246 398M1183 430L1164 424L1157 416L1163 409L1169 403M1156 399L1173 400L1186 412L1194 415L1198 403L1190 390M1238 418L1231 425L1223 438L1212 442L1199 452M1137 341L1130 355L1124 362M1214 370L1200 382L1184 380L1174 377L1165 372L1154 360L1151 352L1142 348M1262 347L1251 360L1248 375L1250 394L1267 398L1271 386M1276 382L1278 363M1215 317L1205 302M1239 408L1226 414L1223 423L1215 438L1209 449L1203 459M1136 374L1125 372M1235 312L1245 314M1186 344L1200 350L1204 358L1197 374L1202 388M1169 352L1153 354L1145 362L1133 370M1231 430L1227 421L1233 408L1240 400M1174 414L1185 421L1206 419L1219 416L1222 403L1227 391L1239 382L1251 372M1219 441L1226 432L1237 419L1253 410L1266 398M1258 420L1249 421L1233 422L1218 412L1201 411M1180 396L1173 386L1167 371L1160 355M1209 449L1197 443L1187 436L1173 438L1164 422L1150 407M1219 309L1228 312L1239 308M1235 415L1248 399L1258 385L1254 365L1254 352L1267 348M1183 444L1184 423L1193 406L1201 395L1222 398L1234 402M1232 318L1250 315M1176 333L1162 324M1188 427L1175 421L1166 430L1151 443M1145 336L1163 326L1183 329L1195 325M1216 424L1221 438L1233 445L1249 443L1264 444M1205 315L1194 318L1182 313M1126 385L1133 375L1135 360L1138 350L1144 338L1152 331M1156 373L1156 389L1155 409L1154 424L1145 429M1187 320L1200 302M1171 416L1158 408L1150 399L1138 389L1127 372M1230 357L1239 376L1243 385L1254 394L1273 400L1275 420M1166 429L1152 415L1149 401L1143 380L1135 371L1129 362" stroke="#7a8a4e" stroke-opacity="0.7" stroke-width="1.5" stroke-linejoin="round" stroke-linecap="round" fill="none"/>
<path d="M1158 426L1166 434L1181 435L1190 423L1193 411L1213 417L1224 435M1231 389L1226 398L1231 411L1242 428M1195 429L1190 441L1179 458M1214 445L1212 459M1243 386L1226 376L1215 367L1208 370L1189 371M1189 336L1193 323M1191 445L1204 450L1221 461M1181 393L1167 410L1158 413L1147 429M1160 356L1144 356M1164 373L1165 381L1164 401L1163 416L1158 426L1146 434M1208 373L1198 372L1188 353L1171 340L1161 340L1149 332M1233 391L1226 381L1230 363L1237 347L1248 329L1251 321M1214 425L1202 423L1195 415L1180 410L1169 409M1217 389L1227 384L1240 387L1246 403L1255 418L1266 416M1157 377L1174 372L1185 375L1197 378L1214 383L1221 404L1219 413L1221 423M1226 362L1213 363L1192 363L1179 351L1181 338M1154 396L1144 386L1126 385M1173 453L1193 452L1211 459L1221 460M1270 405L1287 399M1232 358L1218 350L1200 341L1184 346L1181 367L1193 382M1158 403L1164 413L1159 427L1153 438L1169 452M1160 435L1144 426L1141 418L1126 405M1227 318L1238 316M1212 418L1219 407L1226 391L1234 380L1254 376L1263 377M1195 403L1182 391L1177 380L1168 364L1164 355L1163 342M1205 408L1191 403L1173 408L1160 414M1221 364L1223 372L1235 379L1237 392L1237 403M1216 373L1212 363L1202 353L1194 348L1178 339L1161 329L1149 333L1134 338M1212 323L1218 343L1227 347L1235 346L1246 339M1161 323L1152 340L1147 355L1140 374L1126 381L1122 393M1151 383L1133 379L1122 377M1153 330L1174 329L1184 311L1194 308L1204 311L1218 316M1234 357L1231 343L1227 334L1217 326L1211 321M1257 416L1255 404L1259 389L1277 381L1284 385L1277 401M1130 379L1127 388L1138 401L1147 408M1286 400L1279 417M1216 323L1213 336L1212 345L1214 365L1214 382L1222 400L1223 413L1234 418M1145 407L1128 399L1122 391M1260 329L1251 332L1243 335L1235 332M1212 429L1227 444L1235 456M1198 423L1205 435L1215 445L1220 455M1273 390L1284 403M1231 441L1220 459" stroke="#7a8a4e" stroke-opacity="0.7" stroke-width="2" stroke-linejoin="round" stroke-linecap="round" fill="none"/>
<path d="M1195 432L1207 423L1220 415L1223 406M1259 431L1245 441L1224 440L1216 436L1214 422L1214 403M1269 357L1260 358L1250 365L1236 365L1227 365L1213 374L1206 382M1188 348L1175 355L1167 350L1157 348L1142 353M1168 412L1181 420L1189 415L1204 426L1218 437L1230 444L1237 448M1142 373L1145 380L1151 401L1149 409L1155 423L1155 441M1225 374L1228 382L1232 391L1242 410L1246 418L1248 430L1242 441L1232 452M1142 407L1161 417L1176 429L1173 445L1185 448M1183 429L1175 409L1180 397L1181 378M1206 321L1206 330L1203 343L1195 348L1187 349L1177 351L1166 353M1128 362L1130 372L1123 391M1229 400L1222 411L1238 419L1247 417L1266 408L1281 410M1160 367L1148 362L1140 352M1219 344L1238 347L1250 354L1261 361L1275 369L1285 355M1201 458L1190 439L1188 423L1181 410L1174 405M1171 417L1158 417L1149 430M1169 318L1177 315L1184 304M1177 452L1167 450L1154 446M1233 455L1248 451M1161 332L1148 331M1234 434L1245 439L1237 450" stroke="#7a8a4e" stroke-opacity="0.7" stroke-width="3" stroke-linejoin="round" stroke-linecap="round" fill="none"/>
<path d="M1241 348L1250 342L1257 333L1274 343M1212 348L1195 355L1185 350L1176 350L1161 339M1205 404L1193 413L1174 421L1175 429M1235 417L1228 436L1214 446L1200 460M1241 374L1258 361L1275 355L1282 345M1269 352L1255 351L1244 350L1229 336L1231 327M1272 386L1258 377L1248 375L1233 376L1226 369M1161 349L1147 359L1132 371L1123 382M1150 375L1161 368L1169 360L1175 355L1184 350L1202 347L1210 349M1232 318L1233 336L1227 350L1210 362L1193 370L1178 385L1168 389L1156 396M1216 319L1205 306M1177 403L1167 404L1155 421L1139 432M1207 423L1205 443L1211 455L1224 456L1235 455M1272 389L1285 395L1287 403L1280 417M1203 305L1200 325L1211 336L1220 351M1199 327L1208 320L1224 320L1234 325L1245 334M1216 392L1228 399L1240 399L1257 409L1266 406L1278 404L1286 402M1203 325L1187 325L1178 316L1165 314M1207 366L1203 355L1193 350L1180 352M1208 387L1207 397L1203 415L1206 433L1210 452L1216 464M1228 350L1221 335L1206 325L1199 340M1180 322L1167 319L1158 320M1214 368L1203 353L1191 357L1181 363L1168 368M1203 399L1202 416L1209 421L1218 425L1231 433L1246 438L1259 443M1172 405L1186 407L1207 403L1217 404L1236 396M1167 365L1171 383L1178 390L1188 398L1194 404M1156 350L1150 344L1138 346M1192 430L1187 421L1171 410L1160 407L1150 412L1129 417M1237 337L1227 347L1220 352L1215 370L1211 379L1212 394M1267 341L1277 360L1291 370M1175 398L1160 401L1141 402L1134 411M1256 325L1244 320L1226 313L1219 309M1186 369L1192 364L1202 346L1211 348L1221 359M1207 365L1218 374L1225 386L1230 396L1239 410L1250 418M1169 395L1179 401L1190 418L1199 423L1211 426L1223 431L1236 423M1223 345L1207 349L1189 361L1186 380L1184 393L1187 404M1184 353L1174 337L1162 321M1208 461L1225 448L1237 435L1252 421L1258 415M1289 397L1280 395L1259 388L1248 375M1263 412L1249 398L1229 390L1212 379L1201 368L1186 354L1172 353L1164 341M1259 357L1267 343L1271 330M1218 329L1237 340L1253 332M1156 439L1167 438L1178 442L1181 456L1190 461L1198 463" stroke="#7a8a4e" stroke-opacity="0.7" stroke-width="4" stroke-linejoin="round" stroke-linecap="round" fill="none"/>
</g>
<path d="M1265 452L1255 451M1197 461L1192 452M1232 311L1225 319M1205 293L1207 298M1115 385L1120 384M1217 468L1210 463M1250 447L1249 437M1167 308L1163 318M1291 405L1283 403M1133 342L1139 347M1234 308L1233 317M1119 378L1127 378M1147 327L1153 329M1224 458L1218 450M1215 465L1208 457M1137 426L1140 422M1166 452L1167 447M1203 466L1200 459M1138 340L1147 341M1126 366L1130 370M1277 331L1273 336M1285 366L1279 370M1121 413L1131 413M1123 387L1128 383M1273 328L1266 331M1265 440L1258 440M1265 323L1262 329M1269 335L1262 336M1184 298L1188 305M1297 373L1294 364M1141 437L1144 431M1286 418L1276 416M1283 341L1273 342M1232 308L1229 316M1257 323L1252 329M1176 305L1175 313M1152 314L1158 319M1212 461L1209 454M1139 428L1148 423M1227 467L1219 461M1180 455L1184 449M1195 300L1202 307M1208 463L1205 456M1293 396L1285 396M1132 412L1138 405M1145 333L1145 339M1168 312L1171 319M1289 370L1281 376M1230 308L1227 314M1278 347L1273 346M1256 447L1253 440M1231 302L1222 308M1184 303L1183 309M1296 382L1287 382M1126 423L1135 426M1183 303L1184 309M1257 316L1254 324M1184 308L1183 318M1239 461L1235 455M1131 342L1137 338M1180 308L1187 316M1179 457L1187 450M1144 438L1153 434M1143 435L1146 425M1198 470L1199 461M1265 434L1257 433M1290 393L1282 393M1234 305L1230 312" stroke="#7f8f56" stroke-opacity="0.8" stroke-width="3" stroke-linecap="round" fill="none" filter="url(#soft)"/>
<path d="M1193 299L1191 304M1253 446L1248 437M1283 347L1276 353M1283 361L1278 365M1117 403L1123 396M1144 333L1154 335M1298 396L1295 389M1199 465L1198 457M1288 360L1277 359M1201 460L1205 451M1131 357L1138 358M1200 470L1199 461M1254 450L1257 443M1124 365L1134 370M1121 391L1131 389M1167 458L1170 451M1154 445L1156 434M1179 304L1186 309M1137 441L1138 431M1130 431L1139 430M1141 431L1148 432M1237 300L1227 305M1288 387L1284 384M1131 436L1129 429M1245 310L1244 319M1264 447L1258 440M1147 443L1149 436M1122 350L1127 352M1143 335L1151 335M1222 303L1224 312M1222 303L1215 308M1126 413L1134 407M1290 393L1281 389M1153 314L1161 320M1119 363L1125 363M1295 380L1290 378M1153 318L1154 327M1211 460L1204 453M1163 451L1169 452M1206 296L1202 305M1204 302L1209 305M1292 381L1283 381M1170 457L1178 454M1143 445L1147 442M1146 446L1148 439M1122 419L1133 421M1180 299L1181 304M1261 448L1256 440M1252 459L1250 454M1256 310L1249 316M1127 407L1133 402M1283 339L1276 341M1116 365L1121 369M1118 414L1123 408M1223 301L1214 307M1272 436L1268 429M1285 388L1278 396M1273 341L1266 345M1160 312L1161 322M1260 450L1259 445M1155 312L1157 323M1295 408L1289 401M1256 312L1251 318M1274 437L1267 434M1188 299L1189 306M1136 434L1140 426M1134 428L1144 431M1123 407L1128 401M1146 321L1151 325M1143 436L1151 429M1193 303L1194 314M1254 313L1262 321M1272 332L1263 333M1123 397L1131 397M1167 311L1172 318" stroke="#9aab70" stroke-opacity="0.8" stroke-width="3" stroke-linecap="round" fill="none" filter="url(#soft)"/>
<path d="M1266 448L1258 442M1157 446L1162 443M1236 304L1235 314M1290 406L1284 408M1289 362L1280 357M1276 323L1266 322M1272 338L1264 336M1126 336L1128 343M1119 350L1128 350M1117 367L1125 371M1280 332L1277 337M1197 299L1196 305M1123 423L1130 426M1155 450L1158 445M1159 319L1163 328M1136 334L1143 337M1127 349L1132 351M1137 421L1143 419M1149 329L1157 331M1255 451L1254 442M1250 316L1249 322M1166 310L1166 315M1245 315L1240 322M1211 471L1209 464M1148 439L1154 433M1218 304L1221 311M1167 306L1169 311M1291 400L1284 395M1285 355L1277 360M1206 302L1210 310M1160 308L1160 316M1156 446L1159 439M1282 411L1277 405M1196 460L1199 451M1116 401L1127 402M1116 394L1124 388M1285 359L1276 364M1128 414L1133 413M1126 428L1129 422M1127 419L1132 418M1228 302L1227 311M1242 466L1236 459M1288 413L1279 413M1146 436L1147 431M1200 466L1202 456M1143 430L1149 423M1289 411L1281 408M1289 360L1279 357M1134 334L1132 341M1222 303L1219 308M1216 469L1212 464M1209 295L1206 303M1276 421L1267 415M1119 402L1126 395M1232 304L1223 306M1255 312L1253 318M1262 317L1259 327" stroke="#8c9c62" stroke-opacity="0.8" stroke-width="3" stroke-linecap="round" fill="none" filter="url(#soft)"/>
<g filter="url(#soft)"><circle cx="1237.5" cy="425.2" r="2.4" fill="#2a8a6c"/>
<circle cx="1159.7" cy="381.1" r="2.8" fill="#2f9a78"/>
<circle cx="1209.4" cy="321.1" r="2.4" fill="#2a8a6c"/>
<circle cx="1257.9" cy="369.2" r="2.7" fill="#268066"/>
<circle cx="1138.9" cy="419.8" r="2.2" fill="#268066"/>
<circle cx="1200.8" cy="345.6" r="2.7" fill="#268066"/>
<circle cx="1194.8" cy="331.2" r="2.0" fill="#2f9a78"/>
<circle cx="1274.0" cy="353.3" r="2.3" fill="#268066"/>
<circle cx="1212.3" cy="328.4" r="2.2" fill="#2a8a6c"/>
<circle cx="1156.4" cy="402.0" r="1.8" fill="#268066"/>
<circle cx="1223.9" cy="441.9" r="2.6" fill="#2f9a78"/>
<circle cx="1162.7" cy="423.6" r="2.4" fill="#268066"/>
<circle cx="1234.8" cy="311.0" r="1.9" fill="#2f9a78"/>
<circle cx="1259.9" cy="401.6" r="2.0" fill="#2a8a6c"/>
<circle cx="1251.6" cy="425.5" r="2.2" fill="#2f9a78"/>
<circle cx="1193.3" cy="363.7" r="2.3" fill="#268066"/>
<circle cx="1247.3" cy="360.2" r="2.0" fill="#2f9a78"/>
<circle cx="1176.1" cy="318.0" r="1.9" fill="#2f9a78"/>
<circle cx="1220.0" cy="444.0" r="2.0" fill="#2a8a6c"/>
<circle cx="1151.6" cy="432.2" r="2.6" fill="#2f9a78"/>
<circle cx="1247.6" cy="315.6" r="2.2" fill="#2a8a6c"/>
<circle cx="1187.6" cy="318.6" r="1.8" fill="#268066"/>
<circle cx="1186.5" cy="410.7" r="2.1" fill="#268066"/>
<circle cx="1242.6" cy="350.3" r="1.9" fill="#2a8a6c"/>
<circle cx="1257.6" cy="414.3" r="2.0" fill="#268066"/>
<circle cx="1218.2" cy="363.3" r="2.2" fill="#2a8a6c"/>
<circle cx="1204.1" cy="458.5" r="2.4" fill="#2a8a6c"/>
<circle cx="1132.8" cy="368.9" r="2.1" fill="#2f9a78"/>
<circle cx="1254.4" cy="424.4" r="2.6" fill="#268066"/>
<circle cx="1215.4" cy="340.6" r="2.2" fill="#2a8a6c"/>
<circle cx="1257.6" cy="349.4" r="1.8" fill="#2f9a78"/>
<circle cx="1261.0" cy="374.5" r="2.8" fill="#2f9a78"/>
<circle cx="1155.9" cy="437.0" r="2.3" fill="#2a8a6c"/>
<circle cx="1141.4" cy="362.7" r="2.2" fill="#2a8a6c"/>
<circle cx="1244.9" cy="389.5" r="2.0" fill="#268066"/>
<circle cx="1242.7" cy="371.9" r="2.0" fill="#2f9a78"/>
<circle cx="1226.9" cy="371.6" r="2.7" fill="#268066"/>
<circle cx="1284.5" cy="368.2" r="2.4" fill="#2a8a6c"/>
<circle cx="1278.5" cy="346.4" r="2.6" fill="#268066"/>
<circle cx="1257.5" cy="436.4" r="2.4" fill="#2a8a6c"/>
<circle cx="1248.7" cy="446.6" r="2.3" fill="#268066"/>
<circle cx="1273.1" cy="416.2" r="2.6" fill="#268066"/>
<circle cx="1169.9" cy="423.3" r="2.4" fill="#2f9a78"/>
<circle cx="1137.5" cy="393.8" r="2.2" fill="#2a8a6c"/>
<circle cx="1221.2" cy="395.7" r="2.0" fill="#2f9a78"/>
<circle cx="1146.9" cy="367.8" r="2.3" fill="#2f9a78"/>
<circle cx="1174.0" cy="443.5" r="2.0" fill="#2a8a6c"/>
<circle cx="1179.2" cy="444.9" r="2.0" fill="#2f9a78"/></g>
</g>
<!-- labels -->
<g transform="translate(0,96.80) scale(1,-1)" opacity="0.4"><text  class="sans" x="14.80" y="47.40" font-size="43.61" textLength="154.36" lengthAdjust="spacingAndGlyphs" fill="url(#gLacR_lacL)" >Laccase</text></g>
<text id="lacL" class="sans" x="14.80" y="47.40" font-size="43.61" textLength="154.36" lengthAdjust="spacingAndGlyphs" fill="url(#gLac)" >Laccase</text>
<g transform="translate(0,316.20) scale(1,-1)" opacity="0.22"><text  class="sans" x="275.60" y="157.10" font-size="43.00" textLength="239.97" lengthAdjust="spacingAndGlyphs" fill="url(#gPhoR_phoL)" >Phosphatase</text></g>
<text id="phoL" class="sans" x="275.60" y="157.10" font-size="43.00" textLength="239.97" lengthAdjust="spacingAndGlyphs" fill="url(#gPho)" >Phosphatase</text>
<g transform="translate(0,309.20) scale(1,-1)" opacity="0.4"><text  class="sans" x="954.40" y="153.60" font-size="43.74" textLength="152.51" lengthAdjust="spacingAndGlyphs" fill="url(#gLacR_lacR)" >Laccase</text></g>
<text id="lacR" class="sans" x="954.40" y="153.60" font-size="43.74" textLength="152.51" lengthAdjust="spacingAndGlyphs" fill="url(#gLac)" >Laccase</text>
<g transform="translate(0,112.00) scale(1,-1)" opacity="0.22"><text  class="sans" x="1207.00" y="55.00" font-size="43.00" textLength="239.97" lengthAdjust="spacingAndGlyphs" fill="url(#gPhoR_phoR)" >Phosphatase</text></g>
<text id="phoR" class="sans" x="1207.00" y="55.00" font-size="43.00" textLength="239.97" lengthAdjust="spacingAndGlyphs" fill="url(#gPho)" >Phosphatase</text>
<path d="M529.2 143.7 L537 152.9 M539.3 152.9 L557.4 133.7" fill="none" stroke="#000" stroke-width="1.6" stroke-linecap="butt"/>
<path d="M1124.4 143.6 L1132.2 152.8 M1134.5 152.8 L1153.5 133" fill="none" stroke="#000" stroke-width="1.6" stroke-linecap="butt"/>
<text id="alk" class="serif" x="556.00" y="314.60" font-size="41.00" font-style="italic" textLength="272.33" lengthAdjust="spacingAndGlyphs" transform="translate(0,314.60) skewX(6) translate(0,-314.60)" stroke="#000" stroke-width="0.9">Alkaline etching</text>
<text id="food" class="serif" x="450.00" y="547.60" font-size="40.50" font-style="italic" textLength="85.95" lengthAdjust="spacingAndGlyphs" transform="translate(0,547.60) skewX(6) translate(0,-547.60)" stroke="#000" stroke-width="0.9">Food</text>
<text id="addi" class="serif" x="422.00" y="601.90" font-size="42.00" font-style="italic" textLength="145.45" lengthAdjust="spacingAndGlyphs" transform="translate(0,601.90) skewX(6) translate(0,-601.90)" stroke="#000" stroke-width="0.9">additives</text>
<text id="glyp" class="serif" x="830.00" y="570.10" font-size="42.00" font-style="italic" textLength="78.83" lengthAdjust="spacingAndGlyphs" transform="translate(0,570.10) skewX(6) translate(0,-570.10)" stroke="#000" stroke-width="0.9">Glyp</text>
<text id="oth" class="serif" x="1198.00" y="575.00" font-size="43.00" font-style="italic" textLength="101.25" lengthAdjust="spacingAndGlyphs" transform="translate(0,575.00) skewX(6) translate(0,-575.00)" stroke="#000" stroke-width="0.9">others</text>
<text id="opsL" class="serif" x="332.20" y="387.60" font-size="41.33" textLength="69.04" lengthAdjust="spacingAndGlyphs" stroke="#fff" stroke-width="0.45">OPs</text>
<text id="opsR" class="serif" x="1006.40" y="353.10" font-size="39.39" textLength="69.24" lengthAdjust="spacingAndGlyphs" stroke="#fff" stroke-width="0.45">OPs</text>
<text id="ips" class="serif" x="1012.20" y="407.40" font-size="37.88" textLength="55.58" lengthAdjust="spacingAndGlyphs" stroke="#fff" stroke-width="0.45">IPs</text>
<text class="serif" x="341.5" y="482.4" font-size="39.5">PO</text><text class="serif" x="396" y="491.2" font-size="25.5" textLength="12.5" lengthAdjust="spacingAndGlyphs">4</text><text class="serif" x="411" y="471.6" font-size="25.5" textLength="22.5" lengthAdjust="spacingAndGlyphs">3-</text>
<!-- ============ CENTER ARROW ============ -->
<rect x="539" y="338" width="20" height="54" fill="#f2f2f2"/>
<rect x="567" y="338" width="25" height="54" fill="#e3e3e3"/>
<rect x="602" y="338" width="34" height="54" fill="#d5d5d5"/>
<rect x="646" y="338" width="41" height="54" fill="#c7c7c7"/>
<path d="M697 338 H813 V323 L860 365 L813 407 V392 H697 Z" fill="url(#gArrow)"/>

<path d="M323 397 L329 402 C325 425 325 445 325 460 C327 485 340 505 363 526 L368 510 L376 509 L422 552 L358 565 L357 545 C330 530 310 510 303 489 C298 475 300 468 301 467" fill="none" stroke="#d6d6d6" stroke-width="5.2" stroke-linejoin="round" stroke-linecap="round"/>

<path d="M1038 440 a11 11 0 0 1 22 0 V470 C1065 520 1090 544 1120 544 L1122 523 L1174 554 L1122 585 L1120 565 C1090 565 1060 540 1048 498 C1036 540 1008 565 979 565 L975 585 L923.5 554 L975 523 L979 544 C1008 544 1033 520 1038 470 Z" fill="none" stroke="#d6d6d6" stroke-width="5.2" stroke-linejoin="round" stroke-linecap="round"/>


<!-- ============ TUG OF WAR ============ -->
<g id="manL" stroke="#1c1416" stroke-width="1.1" stroke-linejoin="round">
  <path d="M604 721 L627 724 C628 734 629 745 630 754 L612 755 C611 745 608 732 604 721 Z" fill="#6d8b8e"/>
  <path d="M612 753 L639 752 Q643 760 641 767 L612 767 Q610 760 612 753 Z" fill="#862812"/>
  <path d="M599 721 L617 707 C630 720 645 733 658 747 L643 760 C630 746 614 733 599 721 Z" fill="#86a3a5"/>
  <path d="M609 717 C622 728 636 740 649 752" fill="none" stroke="#a3babb" stroke-width="3"/>
  <path d="M641 757 L655 751 Q669 753 674 761 L674 767 L641 767 Z" fill="#862812"/>
  <path d="M595 675 C605 680 615 684 624 689 L612 713 L601 723 L586 725 L586 690 Z" fill="#7b989b"/>
  <path d="M590 691 L631 690 L632 707 L602 707 C596 704 592 698 590 691 Z" fill="#8aa5a7"/>
  <path d="M596 695 C606 693 618 693 629 694" fill="none" stroke="#a6bcbd" stroke-width="2.5"/>
  <path d="M595 673 L599.5 677 C596 688 592 700 589 713 L583 711 C585 699 590 686 595 673 Z" fill="#9a28cc"/>
  <path d="M631 693 C636 690 641 690 644 693 C647 696 648 702 646 706 C642 708 636 708 632 706 Z" fill="#f6c2df"/>
  <path d="M567 648 C572 647 576 651 580 655 C583 652 586 648 589 647.5 C592 647.5 593 651 591 653.5 C589 656 587.5 659 586.5 662 L584 665 C586 666 590 667 593 669 L597 672.5 L591 678 L583 681 C577 679 570 675 566 671 C561 666 561 654 567 648 Z" fill="#f6c4e2"/>
  <path d="M576 655.5 L579.5 658 M582.5 661 L584.5 662.5" fill="none" stroke-width="1.3"/>
  <path d="M584 680 L591 677 L593 681 L586 684 Z" fill="#ffffff" stroke-width="0.6"/>
  <path d="M556 656 C556 649 562 645 568 646 C570 647 571 648 569 650 C566 653 564 657 566 661 C568 664 571 667 571 669 C569 671 565 671 562 669 C558 666 556 661 556 656 Z" fill="#c87a32"/>
</g>
<use href="#manL" transform="translate(1392,0) scale(-1,1)"/>
<path d="M488 694 C495 700 498 705 505 704 C520 701 530 704 540 702 C550 699 560 696 583 698" fill="none" stroke="#3a2222" stroke-width="3"/>
<path d="M810 697.5 C822 699 830 701 838 698 C846 695 852 697 860 702 C868 707 880 706 916 706" fill="none" stroke="#3a2222" stroke-width="3"/>
<path d="M645 696 L697 697 L747 695 L747 700 L697 699 L645 701 Z" fill="#2a1616"/>
<path d="M698 698 L697 721" fill="none" stroke="#333" stroke-width="1.5"/>
<path d="M697.7 719.5 L701 725 L704.5 725 L701.5 729 L704.5 733 L701 733 L697.7 738 L694.5 733 L691 733 L694 729 L691 725 L694.5 725 Z" fill="#e85070"/>
<!-- bottom -->
<g opacity="0.32">
<g transform="translate(0,1377.00) scale(1,-1)"><text  class="bot" x="259.60" y="685.50" font-size="45.96" letter-spacing="4.00" textLength="247.84" lengthAdjust="spacingAndGlyphs" fill="url(#gRefl_deg)" >Degradation</text></g>
<g transform="translate(0,1488.60) scale(1,-1)"><text  class="bot" x="262.80" y="741.30" font-size="46.72" letter-spacing="4.00" textLength="241.12" lengthAdjust="spacingAndGlyphs" fill="url(#gRefl_uni)" >universality</text></g>
<g transform="translate(0,1392.80) scale(1,-1)"><text  class="bot" x="899.00" y="693.40" font-size="42.77" letter-spacing="4.00" textLength="148.19" lengthAdjust="spacingAndGlyphs" fill="url(#gRefl_sen)" >Sensing</text></g>
<g transform="translate(0,1505.60) scale(1,-1)"><text  class="bot" x="862.80" y="749.80" font-size="47.58" letter-spacing="4.00" textLength="220.33" lengthAdjust="spacingAndGlyphs" fill="url(#gRefl_sel)" >selectivity</text></g>
</g>
<g fill="none" stroke="#f9cc7c" stroke-width="4.2" stroke-opacity="0.8" stroke-linejoin="round">
<text  class="bot" x="259.60" y="685.50" font-size="45.96" letter-spacing="4.00" textLength="247.84" lengthAdjust="spacingAndGlyphs" >Degradation</text>
<text  class="bot" x="262.80" y="741.30" font-size="46.72" letter-spacing="4.00" textLength="241.12" lengthAdjust="spacingAndGlyphs" >universality</text>
<text  class="bot" x="899.00" y="693.40" font-size="42.77" letter-spacing="4.00" textLength="148.19" lengthAdjust="spacingAndGlyphs" >Sensing</text>
<text  class="bot" x="862.80" y="749.80" font-size="47.58" letter-spacing="4.00" textLength="220.33" lengthAdjust="spacingAndGlyphs" >selectivity</text>
</g>
<g fill="#f2907a" stroke="#f2a474" stroke-width="1.0" stroke-linejoin="round">
<text id="deg" class="bot" x="259.60" y="685.50" font-size="45.96" letter-spacing="4.00" textLength="247.84" lengthAdjust="spacingAndGlyphs" >Degradation</text>
<text id="uni" class="bot" x="262.80" y="741.30" font-size="46.72" letter-spacing="4.00" textLength="241.12" lengthAdjust="spacingAndGlyphs" >universality</text>
<text id="sen" class="bot" x="899.00" y="693.40" font-size="42.77" letter-spacing="4.00" textLength="148.19" lengthAdjust="spacingAndGlyphs" >Sensing</text>
<text id="sel" class="bot" x="862.80" y="749.80" font-size="47.58" letter-spacing="4.00" textLength="220.33" lengthAdjust="spacingAndGlyphs" >selectivity</text>
</g>
</svg>
</body></html>
